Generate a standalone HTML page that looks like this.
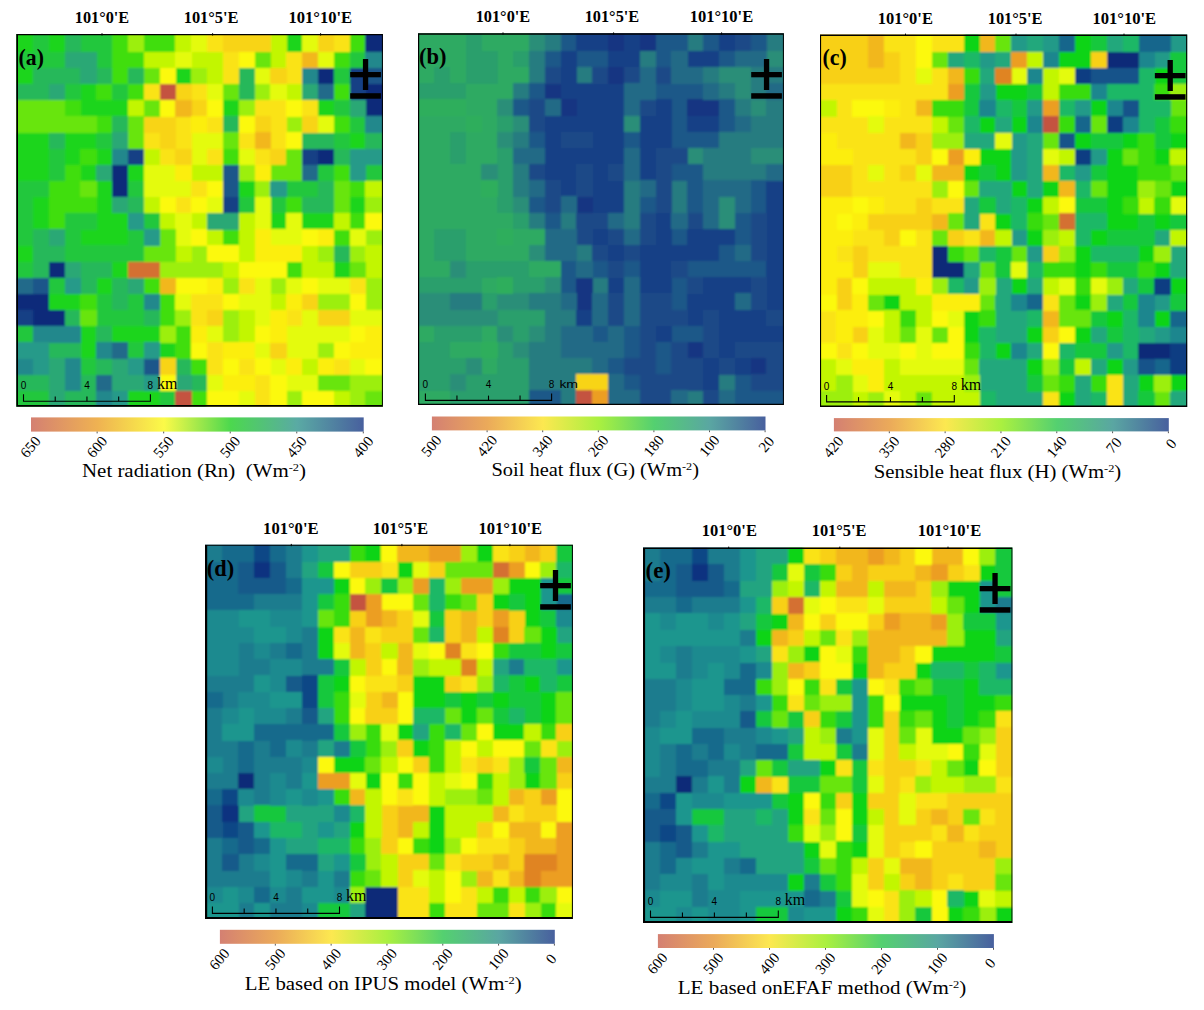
<!DOCTYPE html>
<html><head><meta charset="utf-8"><title>fig</title>
<style>
html,body{margin:0;padding:0;background:#fff;}
body{width:1204px;height:1010px;position:relative;overflow:hidden;font-family:"Liberation Serif",serif;color:#000;}
svg{position:absolute;left:0;top:0;}
.lab{font-family:"Liberation Serif",serif;font-weight:bold;font-size:17px;}
.pl{font-family:"Liberation Serif",serif;font-weight:bold;font-size:23px;}
.tk{font-family:"Liberation Serif",serif;font-size:15px;}
.tt{font-family:"Liberation Serif",serif;font-size:18.5px;}
.sc{font-family:"Liberation Sans",sans-serif;font-size:10px;}
.km{font-family:"Liberation Serif",serif;font-size:16px;}
</style></head><body>
<svg width="1204" height="1010" viewBox="0 0 1204 1010">
<defs>
<filter id="bl" x="-2%" y="-2%" width="104%" height="104%"><feGaussianBlur stdDeviation="0.8"/></filter>
<linearGradient id="cbA" x1="0" x2="1" y1="0" y2="0">
<stop offset="0" stop-color="#d48072"/>
<stop offset="0.2" stop-color="#efb252"/>
<stop offset="0.4" stop-color="#fbfa48"/>
<stop offset="0.6" stop-color="#4cd84e"/>
<stop offset="0.8" stop-color="#5aaaa4"/>
<stop offset="1" stop-color="#48609e"/>
</linearGradient>
<linearGradient id="cbB" x1="0" x2="1" y1="0" y2="0">
<stop offset="0" stop-color="#d48072"/>
<stop offset="0.1667" stop-color="#ebaa5a"/>
<stop offset="0.3333" stop-color="#fce850"/>
<stop offset="0.5" stop-color="#aaf040"/>
<stop offset="0.6667" stop-color="#54d070"/>
<stop offset="0.8333" stop-color="#5aa6a2"/>
<stop offset="1" stop-color="#48609e"/>
</linearGradient>
</defs>

<g id="pa">
<clipPath id="cla"><rect x="16.3" y="34" width="366.6" height="372.8"/></clipPath>
<g clip-path="url(#cla)"><g filter="url(#bl)" shape-rendering="crispEdges">
<path fill="#1bd51b" d="M13.3 31H33.14V52.04H13.3ZM48.68 31H64.82V52.04H48.68ZM286.28 31H302.42V52.04H286.28ZM13.3 67.88H33.14V84.32H13.3ZM175.4 67.88H191.54V84.32H175.4ZM80.36 84.02H96.5V100.46H80.36ZM80.36 100.16H128.18V116.6H80.36ZM222.92 100.16H239.06V116.6H222.92ZM317.96 100.16H334.1V116.6H317.96ZM13.3 132.44H48.98V148.88H13.3ZM64.52 132.44H96.5V148.88H64.52ZM349.64 132.44H365.78V148.88H349.64ZM13.3 148.58H48.98V165.02H13.3ZM64.52 148.58H80.66V165.02H64.52ZM96.2 148.58H112.34V165.02H96.2ZM13.3 164.72H48.98V181.16H13.3ZM80.36 164.72H96.5V181.16H80.36ZM127.88 164.72H144.02V181.16H127.88ZM96.2 180.86H112.34V197.3H96.2ZM238.76 180.86H254.9V197.3H238.76ZM32.84 197H48.98V213.44H32.84ZM96.2 197H112.34V213.44H96.2ZM349.64 197H365.78V213.44H349.64ZM32.84 213.14H48.98V229.58H32.84ZM96.2 213.14H128.18V229.58H96.2ZM270.44 213.14H286.58V229.58H270.44ZM302.12 213.14H334.1V229.58H302.12ZM80.36 229.28H128.18V245.72H80.36ZM13.3 245.42H33.14V261.86H13.3ZM112.04 261.56H128.18V278H112.04ZM333.8 261.56H349.94V278H333.8ZM96.2 277.7H112.34V294.14H96.2ZM48.68 293.84H80.66V310.28H48.68ZM80.36 326.12H96.5V342.56H80.36ZM112.04 326.12H159.86V342.56H112.04ZM80.36 342.26H96.5V358.7H80.36ZM159.56 342.26H175.7V358.7H159.56ZM127.88 390.68H159.86V409.8H127.88Z"/>
<path fill="#22c73c" d="M32.84 31H48.98V52.04H32.84ZM80.36 31H112.34V52.04H80.36ZM13.3 51.74H64.82V68.18H13.3ZM96.2 51.74H112.34V68.18H96.2ZM349.64 51.74H365.78V68.18H349.64ZM333.8 67.88H349.94V84.32H333.8ZM64.52 84.02H80.66V100.46H64.52ZM112.04 84.02H128.18V100.46H112.04ZM333.8 100.16H349.94V116.6H333.8ZM349.64 116.3H365.78V132.74H349.64ZM96.2 132.44H112.34V148.88H96.2ZM333.8 132.44H349.94V148.88H333.8ZM48.68 148.58H64.82V165.02H48.68ZM48.68 164.72H64.82V181.16H48.68ZM317.96 164.72H334.1V181.16H317.96ZM365.48 164.72H385.9V181.16H365.48ZM13.3 180.86H48.98V197.3H13.3ZM127.88 180.86H144.02V197.3H127.88ZM286.28 180.86H318.26V197.3H286.28ZM13.3 197H33.14V213.44H13.3ZM238.76 197H254.9V213.44H238.76ZM270.44 197H286.58V213.44H270.44ZM13.3 213.14H33.14V229.58H13.3ZM64.52 213.14H96.5V229.58H64.52ZM143.72 213.14H159.86V229.58H143.72ZM13.3 229.28H33.14V245.72H13.3ZM64.52 229.28H80.66V245.72H64.52ZM127.88 229.28H144.02V245.72H127.88ZM64.52 245.42H144.02V261.86H64.52ZM13.3 261.56H33.14V278H13.3ZM48.68 277.7H64.82V294.14H48.68ZM96.2 293.84H112.34V310.28H96.2ZM127.88 293.84H144.02V310.28H127.88ZM96.2 309.98H144.02V326.42H96.2ZM13.3 326.12H33.14V342.56H13.3ZM127.88 342.26H144.02V358.7H127.88ZM80.36 358.4H96.5V374.84H80.36ZM13.3 390.68H48.98V409.8H13.3ZM159.56 390.68H175.7V409.8H159.56Z"/>
<path fill="#28b85a" d="M64.52 31H80.66V52.04H64.52ZM32.84 67.88H80.66V84.32H32.84ZM96.2 67.88H112.34V84.32H96.2ZM127.88 67.88H144.02V84.32H127.88ZM238.76 67.88H254.9V84.32H238.76ZM13.3 84.02H48.98V100.46H13.3ZM238.76 84.02H254.9V100.46H238.76ZM112.04 116.3H128.18V132.74H112.04ZM222.92 116.3H239.06V132.74H222.92ZM48.68 132.44H64.82V148.88H48.68ZM302.12 132.44H334.1V148.88H302.12ZM365.48 132.44H385.9V148.88H365.48ZM333.8 148.58H349.94V165.02H333.8ZM317.96 180.86H334.1V197.3H317.96ZM127.88 197H144.02V213.44H127.88ZM302.12 197H334.1V213.44H302.12ZM32.84 229.28H48.98V245.72H32.84ZM32.84 245.42H64.82V261.86H32.84ZM333.8 245.42H349.94V261.86H333.8ZM32.84 261.56H48.98V278H32.84ZM80.36 261.56H112.34V278H80.36ZM80.36 277.7H96.5V294.14H80.36ZM112.04 277.7H128.18V294.14H112.04ZM112.04 293.84H128.18V310.28H112.04ZM64.52 309.98H80.66V326.42H64.52ZM143.72 309.98H159.86V326.42H143.72ZM96.2 326.12H112.34V342.56H96.2ZM48.68 342.26H80.66V358.7H48.68ZM96.2 358.4H112.34V374.84H96.2ZM175.4 358.4H191.54V374.84H175.4ZM13.3 374.54H48.98V390.98H13.3ZM80.36 374.54H96.5V390.98H80.36ZM191.24 374.54H207.38V390.98H191.24ZM64.52 390.68H96.5V409.8H64.52Z"/>
<path fill="#40de0e" d="M112.04 31H128.18V52.04H112.04ZM143.72 31H175.7V52.04H143.72ZM349.64 31H365.78V52.04H349.64ZM112.04 51.74H144.02V68.18H112.04ZM333.8 51.74H349.94V68.18H333.8ZM112.04 67.88H128.18V84.32H112.04ZM96.2 84.02H112.34V100.46H96.2ZM127.88 84.02H144.02V100.46H127.88ZM333.8 84.02H349.94V100.46H333.8ZM64.52 100.16H80.66V116.6H64.52ZM96.2 116.3H112.34V132.74H96.2ZM333.8 116.3H349.94V132.74H333.8ZM80.36 148.58H96.5V165.02H80.36ZM222.92 148.58H239.06V165.02H222.92ZM64.52 164.72H80.66V181.16H64.52ZM333.8 164.72H349.94V181.16H333.8ZM48.68 180.86H80.66V197.3H48.68ZM349.64 180.86H365.78V197.3H349.64ZM48.68 197H96.5V213.44H48.68ZM286.28 197H302.42V213.44H286.28ZM48.68 213.14H64.82V229.58H48.68ZM349.64 213.14H365.78V229.58H349.64ZM222.92 229.28H239.06V245.72H222.92ZM333.8 229.28H349.94V245.72H333.8ZM286.28 261.56H302.42V278H286.28ZM143.72 277.7H159.86V294.14H143.72ZM80.36 293.84H96.5V310.28H80.36ZM159.56 293.84H175.7V310.28H159.56ZM159.56 309.98H175.7V326.42H159.56ZM175.4 326.12H191.54V342.56H175.4ZM175.4 342.26H191.54V358.7H175.4ZM191.24 358.4H207.38V374.84H191.24ZM191.24 390.68H207.38V409.8H191.24Z"/>
<path fill="#9cef0a" d="M127.88 31H144.02V52.04H127.88ZM191.24 67.88H207.38V84.32H191.24ZM254.6 84.02H270.74V100.46H254.6ZM238.76 100.16H254.9V116.6H238.76ZM286.28 116.3H302.42V132.74H286.28ZM238.76 164.72H254.9V181.16H238.76ZM254.6 180.86H270.74V197.3H254.6ZM365.48 197H385.9V213.44H365.48ZM365.48 229.28H385.9V245.72H365.48ZM191.24 245.42H207.38V261.86H191.24ZM317.96 245.42H334.1V261.86H317.96ZM349.64 245.42H365.78V261.86H349.64ZM159.56 261.56H223.22V278H159.56ZM222.92 277.7H239.06V294.14H222.92ZM270.44 277.7H286.58V294.14H270.44ZM365.48 277.7H385.9V294.14H365.48ZM317.96 293.84H349.94V310.28H317.96ZM365.48 293.84H385.9V310.28H365.48ZM175.4 309.98H191.54V326.42H175.4ZM222.92 309.98H239.06V326.42H222.92ZM159.56 326.12H175.7V342.56H159.56ZM222.92 326.12H239.06V342.56H222.92ZM317.96 342.26H334.1V358.7H317.96ZM349.64 374.54H385.9V390.98H349.64ZM286.28 390.68H302.42V409.8H286.28ZM349.64 390.68H365.78V409.8H349.64Z"/>
<path fill="#c2f605" d="M175.4 31H191.54V52.04H175.4ZM270.44 31H286.58V52.04H270.44ZM143.72 51.74H175.7V68.18H143.72ZM191.24 51.74H223.22V68.18H191.24ZM270.44 51.74H286.58V68.18H270.44ZM207.08 67.88H223.22V84.32H207.08ZM286.28 84.02H302.42V100.46H286.28ZM127.88 100.16H144.02V116.6H127.88ZM143.72 148.58H159.86V165.02H143.72ZM191.24 164.72H223.22V181.16H191.24ZM365.48 180.86H385.9V197.3H365.48ZM143.72 197H159.86V213.44H143.72ZM159.56 213.14H175.7V229.58H159.56ZM191.24 213.14H207.38V229.58H191.24ZM238.76 213.14H254.9V229.58H238.76ZM333.8 213.14H349.94V229.58H333.8ZM207.08 229.28H223.22V245.72H207.08ZM238.76 229.28H254.9V245.72H238.76ZM175.4 245.42H191.54V261.86H175.4ZM238.76 245.42H254.9V261.86H238.76ZM302.12 245.42H318.26V261.86H302.12ZM365.48 245.42H385.9V261.86H365.48ZM222.92 261.56H239.06V278H222.92ZM302.12 261.56H334.1V278H302.12ZM365.48 261.56H385.9V278H365.48ZM270.44 293.84H286.58V310.28H270.44ZM238.76 309.98H254.9V326.42H238.76ZM238.76 326.12H254.9V342.56H238.76ZM302.12 358.4H318.26V374.84H302.12ZM333.8 390.68H349.94V409.8H333.8Z"/>
<path fill="#e4fb08" d="M191.24 31H207.38V52.04H191.24ZM302.12 31H318.26V52.04H302.12ZM175.4 51.74H191.54V68.18H175.4ZM317.96 51.74H334.1V68.18H317.96ZM254.6 67.88H270.74V84.32H254.6ZM207.08 84.02H223.22V100.46H207.08ZM270.44 84.02H286.58V100.46H270.44ZM317.96 116.3H334.1V132.74H317.96ZM191.24 132.44H223.22V148.88H191.24ZM191.24 148.58H207.38V165.02H191.24ZM238.76 148.58H254.9V165.02H238.76ZM143.72 164.72H175.7V181.16H143.72ZM143.72 180.86H191.54V197.3H143.72ZM207.08 197H223.22V213.44H207.08ZM254.6 197H270.74V213.44H254.6ZM175.4 213.14H191.54V229.58H175.4ZM254.6 213.14H270.74V229.58H254.6ZM286.28 213.14H302.42V229.58H286.28ZM175.4 229.28H191.54V245.72H175.4ZM270.44 229.28H302.42V245.72H270.44ZM349.64 229.28H365.78V245.72H349.64ZM254.6 277.7H270.74V294.14H254.6ZM286.28 277.7H302.42V294.14H286.28ZM317.96 277.7H349.94V294.14H317.96ZM175.4 293.84H191.54V310.28H175.4ZM238.76 293.84H270.74V310.28H238.76ZM254.6 309.98H270.74V326.42H254.6ZM302.12 309.98H318.26V326.42H302.12ZM349.64 309.98H385.9V326.42H349.64ZM207.08 326.12H223.22V342.56H207.08ZM286.28 326.12H349.94V342.56H286.28ZM254.6 342.26H270.74V358.7H254.6ZM286.28 342.26H318.26V358.7H286.28ZM270.44 358.4H286.58V374.84H270.44ZM349.64 358.4H365.78V374.84H349.64ZM207.08 374.54H223.22V390.98H207.08ZM286.28 374.54H318.26V390.98H286.28ZM238.76 390.68H254.9V409.8H238.76Z"/>
<path fill="#fae313" d="M207.08 31H223.22V52.04H207.08ZM333.8 31H349.94V52.04H333.8ZM222.92 51.74H239.06V68.18H222.92ZM286.28 51.74H302.42V68.18H286.28ZM222.92 67.88H239.06V84.32H222.92ZM286.28 67.88H302.42V84.32H286.28ZM143.72 84.02H159.86V100.46H143.72ZM191.24 84.02H207.38V100.46H191.24ZM254.6 100.16H286.58V116.6H254.6ZM302.12 100.16H318.26V116.6H302.12ZM175.4 116.3H191.54V132.74H175.4ZM207.08 116.3H223.22V132.74H207.08ZM270.44 116.3H286.58V132.74H270.44ZM143.72 132.44H159.86V148.88H143.72ZM175.4 132.44H191.54V148.88H175.4ZM238.76 132.44H254.9V148.88H238.76ZM270.44 132.44H286.58V148.88H270.44ZM159.56 148.58H175.7V165.02H159.56ZM207.08 148.58H223.22V165.02H207.08ZM254.6 148.58H270.74V165.02H254.6ZM191.24 180.86H207.38V197.3H191.24ZM175.4 197H191.54V213.44H175.4ZM238.76 277.7H254.9V294.14H238.76ZM349.64 277.7H365.78V294.14H349.64ZM191.24 293.84H223.22V310.28H191.24ZM191.24 309.98H207.38V326.42H191.24ZM286.28 309.98H302.42V326.42H286.28ZM207.08 342.26H223.22V358.7H207.08ZM207.08 358.4H223.22V374.84H207.08ZM238.76 358.4H254.9V374.84H238.76ZM333.8 358.4H349.94V374.84H333.8ZM254.6 374.54H270.74V390.98H254.6ZM254.6 390.68H270.74V409.8H254.6Z"/>
<path fill="#f8d412" d="M222.92 31H270.74V52.04H222.92ZM317.96 31H334.1V52.04H317.96ZM270.44 67.88H286.58V84.32H270.44ZM175.4 84.02H191.54V100.46H175.4ZM191.24 100.16H207.38V116.6H191.24ZM143.72 116.3H175.7V132.74H143.72ZM254.6 116.3H270.74V132.74H254.6ZM302.12 116.3H318.26V132.74H302.12ZM159.56 132.44H175.7V148.88H159.56ZM175.4 148.58H191.54V165.02H175.4ZM270.44 148.58H286.58V165.02H270.44ZM302.12 293.84H318.26V310.28H302.12ZM207.08 309.98H223.22V326.42H207.08ZM317.96 309.98H349.94V326.42H317.96ZM270.44 342.26H286.58V358.7H270.44ZM159.56 358.4H175.7V374.84H159.56Z"/>
<path fill="#0b2a7a" d="M365.48 31H385.9V52.04H365.48ZM317.96 67.88H334.1V84.32H317.96ZM365.48 84.02H385.9V100.46H365.48ZM365.48 100.16H385.9V116.6H365.48ZM317.96 148.58H334.1V165.02H317.96ZM112.04 164.72H128.18V181.16H112.04ZM112.04 180.86H128.18V197.3H112.04ZM48.68 261.56H64.82V278H48.68ZM13.3 293.84H48.98V310.28H13.3ZM32.84 309.98H64.82V326.42H32.84Z"/>
<path fill="#2aa874" d="M64.52 51.74H96.5V68.18H64.52ZM80.36 67.88H96.5V84.32H80.36ZM48.68 84.02H64.82V100.46H48.68ZM302.12 84.02H318.26V100.46H302.12ZM349.64 100.16H365.78V116.6H349.64ZM112.04 132.44H128.18V148.88H112.04ZM96.2 164.72H112.34V181.16H96.2ZM112.04 197H128.18V213.44H112.04ZM207.08 213.14H239.06V229.58H207.08ZM48.68 229.28H64.82V245.72H48.68ZM64.52 261.56H80.66V278H64.52ZM127.88 277.7H144.02V294.14H127.88ZM48.68 358.4H64.82V374.84H48.68ZM112.04 358.4H128.18V374.84H112.04ZM48.68 374.54H64.82V390.98H48.68ZM112.04 374.54H144.02V390.98H112.04ZM175.4 374.54H191.54V390.98H175.4ZM48.68 390.68H64.82V409.8H48.68Z"/>
<path fill="#fcf907" d="M238.76 51.74H254.9V68.18H238.76ZM159.56 67.88H175.7V84.32H159.56ZM159.56 100.16H175.7V116.6H159.56ZM207.08 100.16H223.22V116.6H207.08ZM286.28 100.16H302.42V116.6H286.28ZM238.76 116.3H254.9V132.74H238.76ZM286.28 132.44H302.42V148.88H286.28ZM207.08 180.86H223.22V197.3H207.08ZM159.56 197H175.7V213.44H159.56ZM191.24 197H207.38V213.44H191.24ZM365.48 213.14H385.9V229.58H365.48ZM191.24 229.28H207.38V245.72H191.24ZM302.12 229.28H318.26V245.72H302.12ZM207.08 245.42H239.06V261.86H207.08ZM238.76 261.56H286.58V278H238.76ZM175.4 277.7H207.38V294.14H175.4ZM302.12 277.7H318.26V294.14H302.12ZM222.92 293.84H239.06V310.28H222.92ZM349.64 293.84H365.78V310.28H349.64ZM254.6 326.12H270.74V342.56H254.6ZM349.64 326.12H365.78V342.56H349.64ZM191.24 342.26H207.38V358.7H191.24ZM333.8 342.26H349.94V358.7H333.8ZM222.92 358.4H239.06V374.84H222.92ZM254.6 358.4H270.74V374.84H254.6ZM365.48 358.4H385.9V374.84H365.48ZM159.56 374.54H175.7V390.98H159.56ZM270.44 374.54H286.58V390.98H270.44ZM207.08 390.68H239.06V409.8H207.08ZM270.44 390.68H286.58V409.8H270.44ZM302.12 390.68H334.1V409.8H302.12Z"/>
<path fill="#68e50c" d="M254.6 51.74H270.74V68.18H254.6ZM143.72 67.88H159.86V84.32H143.72ZM222.92 84.02H239.06V100.46H222.92ZM13.3 100.16H64.82V116.6H13.3ZM143.72 100.16H159.86V116.6H143.72ZM13.3 116.3H96.5V132.74H13.3ZM127.88 116.3H144.02V132.74H127.88ZM127.88 132.44H144.02V148.88H127.88ZM222.92 132.44H239.06V148.88H222.92ZM286.28 148.58H302.42V165.02H286.28ZM270.44 164.72H302.42V181.16H270.44ZM80.36 180.86H96.5V197.3H80.36ZM333.8 180.86H349.94V197.3H333.8ZM333.8 197H349.94V213.44H333.8ZM159.56 229.28H175.7V245.72H159.56ZM143.72 245.42H175.7V261.86H143.72ZM349.64 261.56H365.78V278H349.64ZM80.36 309.98H96.5V326.42H80.36ZM317.96 374.54H349.94V390.98H317.96ZM365.48 390.68H385.9V409.8H365.48Z"/>
<path fill="#f2b71d" d="M302.12 51.74H318.26V68.18H302.12ZM175.4 100.16H191.54V116.6H175.4ZM254.6 132.44H270.74V148.88H254.6ZM159.56 277.7H175.7V294.14H159.56Z"/>
<path fill="#24888c" d="M365.48 51.74H385.9V68.18H365.48ZM302.12 67.88H318.26V84.32H302.12ZM365.48 116.3H385.9V132.74H365.48ZM112.04 148.58H128.18V165.02H112.04ZM143.72 293.84H159.86V310.28H143.72ZM32.84 326.12H80.66V342.56H32.84ZM96.2 342.26H112.34V358.7H96.2ZM13.3 358.4H33.14V374.84H13.3ZM64.52 358.4H80.66V374.84H64.52ZM64.52 374.54H80.66V390.98H64.52ZM96.2 390.68H112.34V409.8H96.2Z"/>
<path fill="#184085" d="M349.64 67.88H365.78V84.32H349.64ZM349.64 84.02H365.78V100.46H349.64ZM127.88 148.58H144.02V165.02H127.88ZM302.12 148.58H318.26V165.02H302.12ZM222.92 197H239.06V213.44H222.92ZM13.3 309.98H33.14V326.42H13.3Z"/>
<path fill="#1f568a" d="M365.48 67.88H385.9V84.32H365.48ZM222.92 164.72H239.06V181.16H222.92ZM222.92 180.86H239.06V197.3H222.92ZM32.84 277.7H48.98V294.14H32.84ZM143.72 358.4H159.86V374.84H143.72Z"/>
<path fill="#c4533f" d="M159.56 84.02H175.7V100.46H159.56ZM175.4 390.68H191.54V409.8H175.4Z"/>
<path fill="#206a8a" d="M317.96 84.02H334.1V100.46H317.96ZM302.12 164.72H318.26V181.16H302.12ZM13.3 277.7H33.14V294.14H13.3ZM112.04 342.26H128.18V358.7H112.04ZM96.2 374.54H112.34V390.98H96.2Z"/>
<path fill="#fcee0c" d="M191.24 116.3H207.38V132.74H191.24ZM175.4 164.72H191.54V181.16H175.4ZM254.6 164.72H270.74V181.16H254.6ZM254.6 229.28H270.74V245.72H254.6ZM317.96 229.28H334.1V245.72H317.96ZM254.6 245.42H302.42V261.86H254.6ZM207.08 277.7H223.22V294.14H207.08ZM286.28 293.84H302.42V310.28H286.28ZM270.44 309.98H286.58V326.42H270.44ZM191.24 326.12H207.38V342.56H191.24ZM270.44 326.12H286.58V342.56H270.44ZM365.48 326.12H385.9V342.56H365.48ZM222.92 342.26H254.9V358.7H222.92ZM349.64 342.26H385.9V358.7H349.64ZM286.28 358.4H302.42V374.84H286.28ZM317.96 358.4H334.1V374.84H317.96ZM222.92 374.54H254.9V390.98H222.92Z"/>
<path fill="#259a89" d="M349.64 148.58H385.9V165.02H349.64ZM349.64 164.72H365.78V181.16H349.64ZM270.44 180.86H286.58V197.3H270.44ZM127.88 213.14H144.02V229.58H127.88ZM143.72 229.28H159.86V245.72H143.72ZM64.52 277.7H80.66V294.14H64.52ZM13.3 342.26H48.98V358.7H13.3ZM143.72 342.26H159.86V358.7H143.72ZM32.84 358.4H48.98V374.84H32.84ZM127.88 358.4H144.02V374.84H127.88ZM143.72 374.54H159.86V390.98H143.72ZM112.04 390.68H128.18V409.8H112.04Z"/>
<path fill="#d46f33" d="M127.88 261.56H159.86V278H127.88Z"/>
</g></g>
<path fill="#000" d="M16.3 34H382.9V406.8H16.3ZM18 35.2H381.9V404.9H18Z" fill-rule="evenodd"/>
<line x1="102" y1="33.2" x2="102" y2="35.5" stroke="#000" stroke-width="1"/>
<text class="lab" x="74.8" y="23" textLength="54.4" lengthAdjust="spacingAndGlyphs">101°0&#39;E</text>
<line x1="212.6" y1="33.2" x2="212.6" y2="35.5" stroke="#000" stroke-width="1"/>
<text class="lab" x="183.7" y="23" textLength="54.8" lengthAdjust="spacingAndGlyphs">101°5&#39;E</text>
<line x1="320.6" y1="33.2" x2="320.6" y2="35.5" stroke="#000" stroke-width="1"/>
<text class="lab" x="288.4" y="23" textLength="63.8" lengthAdjust="spacingAndGlyphs">101°10&#39;E</text>
<text class="pl" x="18.6" y="64.5" textLength="25.4" lengthAdjust="spacingAndGlyphs">(a)</text>
<rect x="362.9" y="59" width="5.3" height="31" fill="#000"/>
<rect x="350.2" y="72" width="30.7" height="5.3" fill="#000"/>
<rect x="350.2" y="93.2" width="30.7" height="5.5" fill="#000"/>
<path d="M23.5 394.3V401.3H150.4V394.3" fill="none" stroke="#000" stroke-width="1.1"/>
<line x1="55.23" y1="396.5" x2="55.23" y2="401.3" stroke="#000" stroke-width="1.1"/>
<line x1="86.95" y1="396.5" x2="86.95" y2="401.3" stroke="#000" stroke-width="1.1"/>
<line x1="118.68" y1="396.5" x2="118.68" y2="401.3" stroke="#000" stroke-width="1.1"/>
<text class="sc" x="23.5" y="388.9" text-anchor="middle">0</text>
<text class="sc" x="86.95" y="388.9" text-anchor="middle">4</text>
<text class="sc" x="150.4" y="388.9" text-anchor="middle">8</text>
<text class="km" x="156.9" y="389.1">km</text>
<rect x="31" y="417.4" width="332.7" height="14.2" fill="url(#cbA)"/>
<text class="tk" transform="translate(41.5 441.6) rotate(-50)" text-anchor="end">650</text>
<line x1="97.14" y1="431.6" x2="97.14" y2="433.4" stroke="#444" stroke-width="0.9"/>
<text class="tk" transform="translate(108.04 441.6) rotate(-50)" text-anchor="end">600</text>
<line x1="163.68" y1="431.6" x2="163.68" y2="433.4" stroke="#444" stroke-width="0.9"/>
<text class="tk" transform="translate(174.58 441.6) rotate(-50)" text-anchor="end">550</text>
<line x1="230.22" y1="431.6" x2="230.22" y2="433.4" stroke="#444" stroke-width="0.9"/>
<text class="tk" transform="translate(241.12 441.6) rotate(-50)" text-anchor="end">500</text>
<line x1="296.76" y1="431.6" x2="296.76" y2="433.4" stroke="#444" stroke-width="0.9"/>
<text class="tk" transform="translate(307.66 441.6) rotate(-50)" text-anchor="end">450</text>
<line x1="363.3" y1="431.6" x2="363.3" y2="433.4" stroke="#444" stroke-width="0.9"/>
<text class="tk" transform="translate(374.2 441.6) rotate(-50)" text-anchor="end">400</text>
<text class="tt" x="82" y="477.1" textLength="224" lengthAdjust="spacingAndGlyphs">Net radiation (Rn)  (Wm<tspan dy="-6" font-size="11">-2</tspan><tspan dy="6">)</tspan></text>
</g>
<g id="pb">
<clipPath id="clb"><rect x="418" y="33.2" width="365.9" height="371.7"/></clipPath>
<g clip-path="url(#clb)"><g filter="url(#bl)" shape-rendering="crispEdges">
<path fill="#2daa62" d="M415 30.2H465.82V51.17H415ZM481.36 30.2H529.18V51.17H481.36ZM415 50.87H465.82V67.34H415ZM497.2 50.87H513.34V67.34H497.2ZM415 67.04H434.14V83.51H415ZM449.68 67.04H465.82V83.51H449.68ZM497.2 67.04H529.18V83.51H497.2ZM465.52 83.21H513.34V99.68H465.52ZM465.52 99.38H497.5V115.85H465.52ZM415 115.55H465.82V132.02H415ZM481.36 115.55H497.5V132.02H481.36ZM415 131.72H449.98V148.19H415ZM465.52 131.72H497.5V148.19H465.52ZM415 147.89H449.98V164.36H415ZM465.52 147.89H497.5V164.36H465.52ZM415 164.06H481.66V180.53H415ZM415 180.23H481.66V196.7H415ZM415 196.4H497.5V212.87H415ZM415 212.57H513.34V229.04H415ZM415 228.74H434.14V245.21H415ZM465.52 228.74H497.5V245.21H465.52ZM513.04 228.74H545.02V245.21H513.04ZM415 244.91H434.14V261.38H415ZM465.52 244.91H529.18V261.38H465.52ZM415 261.08H449.98V277.55H415ZM528.88 261.08H560.86V277.55H528.88ZM481.36 277.25H497.5V293.72H481.36ZM415 325.76H434.14V342.23H415ZM481.36 325.76H497.5V342.23H481.36ZM449.68 341.93H481.66V358.4H449.68ZM481.36 358.1H497.5V374.57H481.36ZM415 390.44H449.98V407.9H415Z"/>
<path fill="#2c9f6c" d="M465.52 30.2H481.66V51.17H465.52ZM465.52 50.87H497.5V67.34H465.52ZM513.04 50.87H529.18V67.34H513.04ZM433.84 67.04H449.98V83.51H433.84ZM465.52 67.04H497.5V83.51H465.52ZM415 83.21H465.82V99.68H415ZM497.2 115.55H513.34V132.02H497.2ZM449.68 131.72H465.82V148.19H449.68ZM449.68 147.89H465.82V164.36H449.68ZM497.2 147.89H513.34V164.36H497.2ZM497.2 164.06H513.34V180.53H497.2ZM497.2 180.23H513.34V196.7H497.2ZM497.2 196.4H513.34V212.87H497.2ZM513.04 212.57H529.18V229.04H513.04ZM433.84 228.74H465.82V245.21H433.84ZM433.84 244.91H465.82V261.38H433.84ZM465.52 261.08H529.18V277.55H465.52ZM415 277.25H481.66V293.72H415ZM513.04 277.25H545.02V293.72H513.04ZM481.36 293.42H497.5V309.89H481.36ZM497.2 309.59H545.02V326.06H497.2ZM433.84 325.76H481.66V342.23H433.84ZM513.04 325.76H529.18V342.23H513.04ZM415 341.93H449.98V358.4H415ZM497.2 341.93H513.34V358.4H497.2ZM415 358.1H465.82V374.57H415ZM497.2 358.1H529.18V374.57H497.2ZM415 374.27H449.98V390.74H415ZM465.52 374.27H529.18V390.74H465.52ZM449.68 390.44H529.18V407.9H449.68Z"/>
<path fill="#2a8e78" d="M528.88 30.2H545.02V51.17H528.88ZM766.48 50.87H786.9V67.34H766.48ZM718.96 67.04H750.94V83.51H718.96ZM734.8 83.21H750.94V99.68H734.8ZM497.2 99.38H513.34V115.85H497.2ZM750.64 99.38H766.78V115.85H750.64ZM513.04 115.55H529.18V132.02H513.04ZM623.92 115.55H640.06V132.02H623.92ZM497.2 131.72H513.34V148.19H497.2ZM687.28 147.89H703.42V164.36H687.28ZM750.64 147.89H786.9V164.36H750.64ZM481.36 164.06H497.5V180.53H481.36ZM513.04 196.4H529.18V212.87H513.04ZM718.96 196.4H735.1V212.87H718.96ZM718.96 212.57H735.1V229.04H718.96ZM528.88 244.91H545.02V261.38H528.88ZM449.68 261.08H465.82V277.55H449.68ZM544.72 277.25H560.86V293.72H544.72ZM415 293.42H449.98V309.89H415ZM497.2 293.42H529.18V309.89H497.2ZM415 309.59H497.5V326.06H415ZM497.2 325.76H513.34V342.23H497.2ZM528.88 325.76H545.02V342.23H528.88ZM513.04 341.93H529.18V358.4H513.04ZM465.52 358.1H481.66V374.57H465.52ZM449.68 374.27H465.82V390.74H449.68Z"/>
<path fill="#277c80" d="M544.72 30.2H560.86V51.17H544.72ZM687.28 30.2H703.42V51.17H687.28ZM766.48 30.2H786.9V51.17H766.48ZM528.88 50.87H545.02V67.34H528.88ZM639.76 50.87H655.9V67.34H639.76ZM528.88 67.04H545.02V83.51H528.88ZM576.4 67.04H592.54V83.51H576.4ZM703.12 67.04H719.26V83.51H703.12ZM750.64 67.04H786.9V83.51H750.64ZM513.04 83.21H529.18V99.68H513.04ZM718.96 83.21H735.1V99.68H718.96ZM750.64 83.21H766.78V99.68H750.64ZM734.8 99.38H750.94V115.85H734.8ZM766.48 99.38H786.9V115.85H766.48ZM750.64 115.55H786.9V132.02H750.64ZM513.04 131.72H529.18V148.19H513.04ZM718.96 131.72H786.9V148.19H718.96ZM703.12 147.89H750.94V164.36H703.12ZM513.04 164.06H529.18V180.53H513.04ZM703.12 164.06H766.78V180.53H703.12ZM513.04 180.23H529.18V196.7H513.04ZM623.92 180.23H640.06V196.7H623.92ZM671.44 180.23H687.58V196.7H671.44ZM623.92 196.4H640.06V212.87H623.92ZM671.44 196.4H687.58V212.87H671.44ZM528.88 212.57H545.02V229.04H528.88ZM560.56 212.57H576.7V229.04H560.56ZM623.92 212.57H640.06V229.04H623.92ZM576.4 244.91H592.54V261.38H576.4ZM592.24 277.25H608.38V293.72H592.24ZM449.68 293.42H481.66V309.89H449.68ZM528.88 293.42H560.86V309.89H528.88ZM544.72 309.59H576.7V326.06H544.72ZM544.72 325.76H560.86V342.23H544.72ZM528.88 341.93H560.86V358.4H528.88ZM528.88 358.1H592.54V374.57H528.88ZM528.88 374.27H576.7V390.74H528.88ZM718.96 374.27H735.1V390.74H718.96ZM560.56 390.44H576.7V407.9H560.56ZM687.28 390.44H703.42V407.9H687.28Z"/>
<path fill="#1f5888" d="M560.56 30.2H576.7V51.17H560.56ZM655.6 30.2H687.58V51.17H655.6ZM703.12 30.2H719.26V51.17H703.12ZM750.64 30.2H766.78V51.17H750.64ZM544.72 50.87H560.86V67.34H544.72ZM576.4 50.87H608.38V67.34H576.4ZM655.6 50.87H671.74V67.34H655.6ZM718.96 50.87H735.1V67.34H718.96ZM528.88 83.21H545.02V99.68H528.88ZM655.6 83.21H703.42V99.68H655.6ZM513.04 99.38H529.18V115.85H513.04ZM671.44 99.38H687.58V115.85H671.44ZM718.96 99.38H735.1V115.85H718.96ZM671.44 115.55H687.58V132.02H671.44ZM718.96 115.55H735.1V132.02H718.96ZM528.88 131.72H545.02V148.19H528.88ZM623.92 131.72H640.06V148.19H623.92ZM671.44 131.72H719.26V148.19H671.44ZM671.44 164.06H703.42V180.53H671.44ZM687.28 180.23H703.42V196.7H687.28ZM750.64 180.23H766.78V196.7H750.64ZM528.88 196.4H545.02V212.87H528.88ZM639.76 196.4H655.9V212.87H639.76ZM687.28 196.4H703.42V212.87H687.28ZM750.64 196.4H766.78V212.87H750.64ZM544.72 212.57H560.86V229.04H544.72ZM734.8 212.57H750.94V229.04H734.8ZM671.44 228.74H687.58V245.21H671.44ZM734.8 228.74H750.94V245.21H734.8ZM718.96 244.91H735.1V261.38H718.96ZM560.56 261.08H576.7V277.55H560.56ZM592.24 261.08H608.38V277.55H592.24ZM623.92 261.08H640.06V277.55H623.92ZM687.28 261.08H766.78V277.55H687.28ZM560.56 277.25H576.7V293.72H560.56ZM671.44 277.25H687.58V293.72H671.44ZM671.44 293.42H687.58V309.89H671.44ZM592.24 325.76H608.38V342.23H592.24ZM623.92 325.76H640.06V342.23H623.92ZM671.44 325.76H703.42V342.23H671.44ZM623.92 341.93H640.06V358.4H623.92ZM655.6 341.93H671.74V358.4H655.6ZM608.08 358.1H624.22V374.57H608.08ZM655.6 358.1H671.74V374.57H655.6ZM623.92 374.27H640.06V390.74H623.92ZM734.8 374.27H750.94V390.74H734.8ZM528.88 390.44H560.86V407.9H528.88ZM734.8 390.44H786.9V407.9H734.8Z"/>
<path fill="#174086" d="M576.4 30.2H608.38V51.17H576.4ZM623.92 30.2H640.06V51.17H623.92ZM718.96 30.2H735.1V51.17H718.96ZM560.56 50.87H576.7V67.34H560.56ZM608.08 50.87H640.06V67.34H608.08ZM687.28 50.87H719.26V67.34H687.28ZM560.56 67.04H576.7V83.51H560.56ZM560.56 83.21H624.22V99.68H560.56ZM576.4 99.38H624.22V115.85H576.4ZM655.6 99.38H671.74V115.85H655.6ZM544.72 115.55H624.22V132.02H544.72ZM639.76 115.55H671.74V132.02H639.76ZM687.28 115.55H719.26V132.02H687.28ZM544.72 131.72H560.86V148.19H544.72ZM592.24 131.72H624.22V148.19H592.24ZM639.76 131.72H671.74V148.19H639.76ZM544.72 147.89H624.22V164.36H544.72ZM639.76 147.89H655.9V164.36H639.76ZM544.72 164.06H576.7V180.53H544.72ZM592.24 164.06H608.38V180.53H592.24ZM639.76 164.06H655.9V180.53H639.76ZM560.56 180.23H576.7V196.7H560.56ZM592.24 180.23H624.22V196.7H592.24ZM766.48 180.23H786.9V196.7H766.48ZM592.24 196.4H624.22V212.87H592.24ZM766.48 196.4H786.9V212.87H766.48ZM655.6 212.57H671.74V229.04H655.6ZM766.48 212.57H786.9V229.04H766.48ZM592.24 228.74H608.38V245.21H592.24ZM655.6 228.74H671.74V245.21H655.6ZM687.28 228.74H735.1V245.21H687.28ZM766.48 228.74H786.9V245.21H766.48ZM608.08 244.91H624.22V261.38H608.08ZM639.76 244.91H719.26V261.38H639.76ZM766.48 244.91H786.9V261.38H766.48ZM639.76 261.08H671.74V277.55H639.76ZM766.48 261.08H786.9V277.55H766.48ZM608.08 277.25H624.22V293.72H608.08ZM639.76 277.25H671.74V293.72H639.76ZM703.12 277.25H750.94V293.72H703.12ZM766.48 277.25H786.9V293.72H766.48ZM687.28 293.42H735.1V309.89H687.28ZM766.48 293.42H786.9V309.89H766.48ZM576.4 309.59H592.54V326.06H576.4ZM687.28 309.59H703.42V326.06H687.28ZM718.96 309.59H766.78V326.06H718.96ZM655.6 325.76H671.74V342.23H655.6ZM718.96 325.76H786.9V342.23H718.96ZM718.96 341.93H735.1V358.4H718.96ZM703.12 358.1H719.26V374.57H703.12ZM734.8 358.1H750.94V374.57H734.8ZM703.12 374.27H719.26V390.74H703.12Z"/>
<path fill="#123482" d="M608.08 30.2H624.22V51.17H608.08ZM639.76 30.2H655.9V51.17H639.76ZM608.08 67.04H624.22V83.51H608.08ZM544.72 83.21H560.86V99.68H544.72ZM560.56 99.38H576.7V115.85H560.56ZM687.28 99.38H719.26V115.85H687.28ZM576.4 196.4H592.54V212.87H576.4ZM576.4 277.25H592.54V293.72H576.4ZM576.4 293.42H592.54V309.89H576.4ZM687.28 341.93H703.42V358.4H687.28ZM750.64 358.1H766.78V374.57H750.64Z"/>
<path fill="#1b4a87" d="M734.8 30.2H750.94V51.17H734.8ZM544.72 67.04H560.86V83.51H544.72ZM592.24 67.04H608.38V83.51H592.24ZM623.92 67.04H640.06V83.51H623.92ZM655.6 67.04H671.74V83.51H655.6ZM528.88 99.38H545.02V115.85H528.88ZM639.76 99.38H655.9V115.85H639.76ZM528.88 115.55H545.02V132.02H528.88ZM560.56 131.72H592.54V148.19H560.56ZM655.6 147.89H687.58V164.36H655.6ZM528.88 164.06H545.02V180.53H528.88ZM576.4 164.06H592.54V180.53H576.4ZM608.08 164.06H624.22V180.53H608.08ZM655.6 164.06H671.74V180.53H655.6ZM544.72 180.23H560.86V196.7H544.72ZM576.4 180.23H592.54V196.7H576.4ZM655.6 180.23H671.74V196.7H655.6ZM544.72 196.4H560.86V212.87H544.72ZM655.6 196.4H671.74V212.87H655.6ZM576.4 212.57H608.38V229.04H576.4ZM639.76 212.57H655.9V229.04H639.76ZM687.28 212.57H703.42V229.04H687.28ZM750.64 212.57H766.78V229.04H750.64ZM576.4 228.74H592.54V245.21H576.4ZM608.08 228.74H624.22V245.21H608.08ZM639.76 228.74H655.9V245.21H639.76ZM750.64 228.74H766.78V245.21H750.64ZM592.24 244.91H608.38V261.38H592.24ZM623.92 244.91H640.06V261.38H623.92ZM750.64 244.91H766.78V261.38H750.64ZM608.08 261.08H624.22V277.55H608.08ZM671.44 261.08H687.58V277.55H671.44ZM687.28 277.25H703.42V293.72H687.28ZM750.64 277.25H766.78V293.72H750.64ZM608.08 293.42H624.22V309.89H608.08ZM639.76 293.42H671.74V309.89H639.76ZM750.64 293.42H766.78V309.89H750.64ZM608.08 309.59H624.22V326.06H608.08ZM639.76 309.59H687.58V326.06H639.76ZM703.12 309.59H719.26V326.06H703.12ZM766.48 309.59H786.9V326.06H766.48ZM639.76 325.76H655.9V342.23H639.76ZM703.12 325.76H719.26V342.23H703.12ZM639.76 341.93H655.9V358.4H639.76ZM671.44 341.93H687.58V358.4H671.44ZM703.12 341.93H719.26V358.4H703.12ZM734.8 341.93H786.9V358.4H734.8ZM623.92 358.1H655.9V374.57H623.92ZM671.44 358.1H703.42V374.57H671.44ZM718.96 358.1H735.1V374.57H718.96ZM766.48 358.1H786.9V374.57H766.48ZM639.76 374.27H703.42V390.74H639.76ZM750.64 374.27H786.9V390.74H750.64ZM639.76 390.44H671.74V407.9H639.76ZM703.12 390.44H719.26V407.9H703.12Z"/>
<path fill="#246a86" d="M671.44 50.87H687.58V67.34H671.44ZM734.8 50.87H766.78V67.34H734.8ZM639.76 67.04H655.9V83.51H639.76ZM671.44 67.04H703.42V83.51H671.44ZM623.92 83.21H655.9V99.68H623.92ZM703.12 83.21H719.26V99.68H703.12ZM766.48 83.21H786.9V99.68H766.48ZM544.72 99.38H560.86V115.85H544.72ZM623.92 99.38H640.06V115.85H623.92ZM734.8 115.55H750.94V132.02H734.8ZM513.04 147.89H545.02V164.36H513.04ZM623.92 147.89H640.06V164.36H623.92ZM623.92 164.06H640.06V180.53H623.92ZM766.48 164.06H786.9V180.53H766.48ZM528.88 180.23H545.02V196.7H528.88ZM639.76 180.23H655.9V196.7H639.76ZM703.12 180.23H750.94V196.7H703.12ZM560.56 196.4H576.7V212.87H560.56ZM703.12 196.4H719.26V212.87H703.12ZM734.8 196.4H750.94V212.87H734.8ZM608.08 212.57H624.22V229.04H608.08ZM671.44 212.57H687.58V229.04H671.44ZM703.12 212.57H719.26V229.04H703.12ZM544.72 228.74H576.7V245.21H544.72ZM623.92 228.74H640.06V245.21H623.92ZM544.72 244.91H576.7V261.38H544.72ZM734.8 244.91H750.94V261.38H734.8ZM576.4 261.08H592.54V277.55H576.4ZM623.92 277.25H640.06V293.72H623.92ZM560.56 293.42H576.7V309.89H560.56ZM592.24 293.42H608.38V309.89H592.24ZM623.92 293.42H640.06V309.89H623.92ZM734.8 293.42H750.94V309.89H734.8ZM592.24 309.59H608.38V326.06H592.24ZM623.92 309.59H640.06V326.06H623.92ZM560.56 325.76H592.54V342.23H560.56ZM608.08 325.76H624.22V342.23H608.08ZM560.56 341.93H624.22V358.4H560.56ZM592.24 358.1H608.38V374.57H592.24ZM608.08 374.27H624.22V390.74H608.08ZM608.08 390.44H640.06V407.9H608.08ZM671.44 390.44H687.58V407.9H671.44ZM718.96 390.44H735.1V407.9H718.96Z"/>
<path fill="#2eae5c" d="M415 99.38H465.82V115.85H415ZM465.52 115.55H481.66V132.02H465.52ZM481.36 180.23H497.5V196.7H481.36ZM497.2 228.74H513.34V245.21H497.2ZM497.2 277.25H513.34V293.72H497.2ZM481.36 341.93H497.5V358.4H481.36Z"/>
<path fill="#f8d412" d="M576.4 374.27H608.38V390.74H576.4Z"/>
<path fill="#c4533f" d="M576.4 390.44H592.54V407.9H576.4Z"/>
<path fill="#ec9e20" d="M592.24 390.44H608.38V407.9H592.24Z"/>
</g></g>
<path fill="#000" d="M418 33.2H783.9V404.9H418ZM419.2 34.8H782.9V403.7H419.2Z" fill-rule="evenodd"/>
<line x1="503" y1="32.4" x2="503" y2="34.7" stroke="#000" stroke-width="1"/>
<text class="lab" x="475.7" y="22.2" textLength="54.5" lengthAdjust="spacingAndGlyphs">101°0&#39;E</text>
<line x1="613.6" y1="32.4" x2="613.6" y2="34.7" stroke="#000" stroke-width="1"/>
<text class="lab" x="584.7" y="22.2" textLength="54.5" lengthAdjust="spacingAndGlyphs">101°5&#39;E</text>
<line x1="721.6" y1="32.4" x2="721.6" y2="34.7" stroke="#000" stroke-width="1"/>
<text class="lab" x="689.7" y="22.2" textLength="63.5" lengthAdjust="spacingAndGlyphs">101°10&#39;E</text>
<text class="pl" x="418.9" y="63.6" textLength="27.5" lengthAdjust="spacingAndGlyphs">(b)</text>
<rect x="763.9" y="59" width="5.3" height="31" fill="#000"/>
<rect x="751.2" y="72" width="30.7" height="5.3" fill="#000"/>
<rect x="751.2" y="93.2" width="30.7" height="5.5" fill="#000"/>
<path d="M425.4 393.4V400.4H551.6V393.4" fill="none" stroke="#000" stroke-width="1.1"/>
<line x1="456.95" y1="395.6" x2="456.95" y2="400.4" stroke="#000" stroke-width="1.1"/>
<line x1="488.5" y1="395.6" x2="488.5" y2="400.4" stroke="#000" stroke-width="1.1"/>
<line x1="520.05" y1="395.6" x2="520.05" y2="400.4" stroke="#000" stroke-width="1.1"/>
<text class="sc" x="425.4" y="388" text-anchor="middle">0</text>
<text class="sc" x="488.5" y="388" text-anchor="middle">4</text>
<text class="sc" x="551.6" y="388" text-anchor="middle">8</text>
<text class="sc" style="font-size:11.5px" x="559.4" y="387.8" textLength="18.6" lengthAdjust="spacingAndGlyphs">km</text>
<rect x="431.9" y="416.5" width="333.6" height="13.9" fill="url(#cbB)"/>
<text class="tk" transform="translate(442.4 440.4) rotate(-50)" text-anchor="end">500</text>
<line x1="487.1" y1="430.4" x2="487.1" y2="432.2" stroke="#444" stroke-width="0.9"/>
<text class="tk" transform="translate(498 440.4) rotate(-50)" text-anchor="end">420</text>
<line x1="542.7" y1="430.4" x2="542.7" y2="432.2" stroke="#444" stroke-width="0.9"/>
<text class="tk" transform="translate(553.6 440.4) rotate(-50)" text-anchor="end">340</text>
<line x1="598.3" y1="430.4" x2="598.3" y2="432.2" stroke="#444" stroke-width="0.9"/>
<text class="tk" transform="translate(609.2 440.4) rotate(-50)" text-anchor="end">260</text>
<line x1="653.9" y1="430.4" x2="653.9" y2="432.2" stroke="#444" stroke-width="0.9"/>
<text class="tk" transform="translate(664.8 440.4) rotate(-50)" text-anchor="end">180</text>
<line x1="709.5" y1="430.4" x2="709.5" y2="432.2" stroke="#444" stroke-width="0.9"/>
<text class="tk" transform="translate(720.4 440.4) rotate(-50)" text-anchor="end">100</text>
<line x1="765.1" y1="430.4" x2="765.1" y2="432.2" stroke="#444" stroke-width="0.9"/>
<text class="tk" transform="translate(775 441.65) rotate(-50)" text-anchor="end">20</text>
<text class="tt" x="491.4" y="476.3" textLength="207.6" lengthAdjust="spacingAndGlyphs">Soil heat flux (G) (Wm<tspan dy="-6" font-size="11">-2</tspan><tspan dy="6">)</tspan></text>
</g>
<g id="pc">
<clipPath id="clc"><rect x="820" y="34.4" width="367.2" height="372.5"/></clipPath>
<g clip-path="url(#clc)"><g filter="url(#bl)" shape-rendering="crispEdges">
<path fill="#f8d014" d="M817 31.4H868.4V51.97H817ZM817 51.67H868.4V68.14H817ZM884 51.67H900.2V68.14H884ZM1090.7 51.67H1106.9V68.14H1090.7ZM817 67.84H900.2V84.31H817ZM915.8 132.52H932V148.99H915.8ZM915.8 148.69H932V165.16H915.8ZM817 164.86H852.5V181.33H817ZM899.9 164.86H916.1V181.33H899.9ZM817 181.03H852.5V197.5H817ZM915.8 197.2H932V213.67H915.8ZM868.1 213.37H932V229.84H868.1ZM884 229.54H900.2V246.01H884ZM947.6 229.54H963.8V246.01H947.6ZM852.2 245.71H868.4V262.18H852.2ZM1043 245.71H1059.2V262.18H1043ZM852.2 261.88H868.4V278.35H852.2ZM836.3 278.05H852.5V294.52H836.3ZM836.3 294.22H852.5V310.69H836.3ZM852.2 326.56H868.4V343.03H852.2ZM1043 326.56H1059.2V343.03H1043Z"/>
<path fill="#f2b71d" d="M868.1 31.4H884.3V51.97H868.1ZM979.4 31.4H995.6V51.97H979.4ZM868.1 51.67H884.3V68.14H868.1ZM947.6 67.84H963.8V84.31H947.6ZM915.8 100.18H932V116.65H915.8ZM899.9 132.52H916.1V148.99H899.9ZM931.7 164.86H963.8V181.33H931.7ZM1043 164.86H1059.2V181.33H1043ZM1058.9 181.03H1075.1V197.5H1058.9ZM931.7 213.37H947.9V229.84H931.7ZM979.4 229.54H995.6V246.01H979.4ZM1043 310.39H1059.2V326.86H1043Z"/>
<path fill="#fae313" d="M884 31.4H916.1V51.97H884ZM931.7 31.4H963.8V51.97H931.7ZM899.9 51.67H916.1V68.14H899.9ZM899.9 67.84H916.1V84.31H899.9ZM931.7 67.84H947.9V84.31H931.7ZM817 84.01H947.9V100.48H817ZM836.3 100.18H852.5V116.65H836.3ZM899.9 100.18H916.1V116.65H899.9ZM817 116.35H868.4V132.82H817ZM884 116.35H932V132.82H884ZM836.3 132.52H900.2V148.99H836.3ZM852.2 148.69H916.1V165.16H852.2ZM852.2 164.86H868.4V181.33H852.2ZM884 164.86H900.2V181.33H884ZM852.2 181.03H932V197.5H852.2ZM884 197.2H916.1V213.67H884ZM931.7 197.2H963.8V213.67H931.7ZM979.4 213.37H995.6V229.84H979.4ZM852.2 229.54H884.3V246.01H852.2ZM915.8 229.54H932V246.01H915.8ZM963.5 229.54H979.7V246.01H963.5ZM836.3 245.71H852.5V262.18H836.3ZM868.1 245.71H932V262.18H868.1ZM899.9 261.88H932V278.35H899.9ZM1043 294.22H1059.2V310.69H1043ZM817 310.39H836.6V326.86H817ZM817 326.56H836.6V343.03H817ZM836.3 342.73H852.5V359.2H836.3ZM1106.6 375.07H1122.8V391.54H1106.6ZM1043 391.24H1059.2V409.9H1043ZM1106.6 391.24H1122.8V409.9H1106.6Z"/>
<path fill="#fcf907" d="M915.8 31.4H932V51.97H915.8ZM915.8 51.67H932V68.14H915.8ZM852.2 100.18H884.3V116.65H852.2ZM931.7 148.69H947.9V165.16H931.7ZM947.6 181.03H963.8V197.5H947.6ZM852.2 197.2H868.4V213.67H852.2ZM1058.9 197.2H1075.1V213.67H1058.9ZM836.3 213.37H852.5V229.84H836.3ZM899.9 229.54H916.1V246.01H899.9ZM852.2 278.05H868.4V294.52H852.2ZM817 294.22H836.6V310.69H817ZM868.1 310.39H884.3V326.86H868.1ZM931.7 310.39H947.9V326.86H931.7ZM947.6 326.56H963.8V343.03H947.6ZM1058.9 326.56H1075.1V343.03H1058.9ZM817 342.73H836.6V359.2H817ZM852.2 342.73H868.4V359.2H852.2ZM899.9 342.73H916.1V359.2H899.9ZM931.7 342.73H963.8V359.2H931.7ZM1043 342.73H1059.2V359.2H1043Z"/>
<path fill="#0cd416" d="M963.5 31.4H979.7V51.97H963.5ZM1074.8 31.4H1091V51.97H1074.8ZM1058.9 51.67H1091V68.14H1058.9ZM1154.3 67.84H1170.5V84.31H1154.3ZM995.3 84.01H1027.4V100.48H995.3ZM1090.7 100.18H1106.9V116.65H1090.7ZM979.4 116.35H995.6V132.82H979.4ZM1011.2 116.35H1027.4V132.82H1011.2ZM1074.8 132.52H1091V148.99H1074.8ZM1122.5 132.52H1138.7V148.99H1122.5ZM1170.2 132.52H1190.2V148.99H1170.2ZM979.4 148.69H1011.5V165.16H979.4ZM1106.6 148.69H1122.8V165.16H1106.6ZM1154.3 148.69H1170.5V165.16H1154.3ZM963.5 164.86H979.7V181.33H963.5ZM995.3 164.86H1011.5V181.33H995.3ZM1106.6 164.86H1138.7V181.33H1106.6ZM1011.2 181.03H1027.4V197.5H1011.2ZM1043 181.03H1059.2V197.5H1043ZM1106.6 181.03H1138.7V197.5H1106.6ZM1170.2 181.03H1190.2V197.5H1170.2ZM1027.1 197.2H1043.3V213.67H1027.1ZM1106.6 197.2H1122.8V213.67H1106.6ZM995.3 213.37H1011.5V229.84H995.3ZM1106.6 213.37H1138.7V229.84H1106.6ZM1154.3 213.37H1170.5V229.84H1154.3ZM1027.1 229.54H1043.3V246.01H1027.1ZM1090.7 229.54H1106.9V246.01H1090.7ZM1074.8 245.71H1091V262.18H1074.8ZM1138.4 245.71H1154.6V262.18H1138.4ZM1074.8 261.88H1091V278.35H1074.8ZM1154.3 261.88H1170.5V278.35H1154.3ZM1011.2 278.05H1027.4V294.52H1011.2ZM1170.2 278.05H1190.2V294.52H1170.2ZM884 294.22H900.2V310.69H884ZM1074.8 294.22H1091V310.69H1074.8ZM963.5 310.39H979.7V326.86H963.5ZM1106.6 310.39H1122.8V326.86H1106.6ZM1154.3 310.39H1170.5V326.86H1154.3ZM963.5 326.56H979.7V343.03H963.5ZM1027.1 326.56H1043.3V343.03H1027.1ZM1074.8 326.56H1091V343.03H1074.8ZM995.3 342.73H1011.5V359.2H995.3ZM1027.1 358.9H1043.3V375.37H1027.1ZM1106.6 358.9H1122.8V375.37H1106.6ZM1138.4 375.07H1154.6V391.54H1138.4ZM1170.2 375.07H1190.2V391.54H1170.2ZM1058.9 391.24H1075.1V409.9H1058.9Z"/>
<path fill="#68e50c" d="M995.3 31.4H1011.5V51.97H995.3ZM931.7 51.67H947.9V68.14H931.7ZM1170.2 100.18H1190.2V116.65H1170.2ZM947.6 116.35H963.8V132.82H947.6ZM1090.7 116.35H1106.9V132.82H1090.7ZM1043 132.52H1059.2V148.99H1043ZM1122.5 148.69H1138.7V165.16H1122.5ZM1170.2 164.86H1190.2V181.33H1170.2ZM963.5 181.03H979.7V197.5H963.5ZM1090.7 181.03H1106.9V197.5H1090.7ZM1154.3 181.03H1170.5V197.5H1154.3ZM947.6 213.37H963.8V229.84H947.6ZM1043 213.37H1059.2V229.84H1043ZM931.7 229.54H947.9V246.01H931.7ZM963.5 245.71H979.7V262.18H963.5ZM1011.2 245.71H1027.4V262.18H1011.2ZM979.4 261.88H995.6V278.35H979.4ZM868.1 294.22H884.3V310.69H868.1ZM979.4 294.22H995.6V310.69H979.4ZM1058.9 294.22H1075.1V310.69H1058.9ZM1058.9 310.39H1091V326.86H1058.9ZM899.9 326.56H916.1V343.03H899.9ZM931.7 326.56H947.9V343.03H931.7ZM963.5 358.9H979.7V375.37H963.5ZM1043 375.07H1059.2V391.54H1043ZM915.8 391.24H932V409.9H915.8ZM1154.3 391.24H1170.5V409.9H1154.3Z"/>
<path fill="#249a88" d="M1011.2 31.4H1027.4V51.97H1011.2ZM1043 31.4H1059.2V51.97H1043ZM1170.2 31.4H1190.2V51.97H1170.2ZM979.4 51.67H995.6V68.14H979.4ZM1154.3 51.67H1170.5V68.14H1154.3ZM979.4 84.01H995.6V100.48H979.4ZM1027.1 100.18H1043.3V116.65H1027.1ZM1074.8 100.18H1091V116.65H1074.8ZM1011.2 132.52H1027.4V148.99H1011.2ZM1011.2 148.69H1027.4V165.16H1011.2ZM1090.7 148.69H1106.9V165.16H1090.7ZM1011.2 164.86H1027.4V181.33H1011.2ZM1074.8 164.86H1091V181.33H1074.8ZM1011.2 229.54H1027.4V246.01H1011.2ZM1027.1 245.71H1043.3V262.18H1027.1ZM963.5 278.05H979.7V294.52H963.5ZM1154.3 294.22H1170.5V310.69H1154.3ZM1154.3 326.56H1170.5V343.03H1154.3ZM1106.6 342.73H1122.8V359.2H1106.6ZM1122.5 358.9H1138.7V375.37H1122.5Z"/>
<path fill="#20a87c" d="M1027.1 31.4H1043.3V51.97H1027.1ZM1106.6 31.4H1122.8V51.97H1106.6ZM947.6 51.67H963.8V68.14H947.6ZM995.3 51.67H1011.5V68.14H995.3ZM979.4 67.84H995.6V84.31H979.4ZM995.3 116.35H1011.5V132.82H995.3ZM963.5 132.52H995.6V148.99H963.5ZM1027.1 132.52H1043.3V148.99H1027.1ZM1027.1 148.69H1043.3V165.16H1027.1ZM1027.1 164.86H1043.3V181.33H1027.1ZM979.4 181.03H1011.5V197.5H979.4ZM1027.1 181.03H1043.3V197.5H1027.1ZM963.5 197.2H979.7V213.67H963.5ZM995.3 197.2H1011.5V213.67H995.3ZM963.5 213.37H979.7V229.84H963.5ZM1154.3 229.54H1170.5V246.01H1154.3ZM1170.2 245.71H1190.2V262.18H1170.2ZM963.5 261.88H979.7V278.35H963.5ZM1170.2 261.88H1190.2V278.35H1170.2ZM995.3 278.05H1011.5V294.52H995.3ZM1027.1 278.05H1043.3V294.52H1027.1ZM1122.5 278.05H1138.7V294.52H1122.5ZM995.3 294.22H1011.5V310.69H995.3ZM1106.6 294.22H1122.8V310.69H1106.6ZM995.3 310.39H1027.4V326.86H995.3ZM995.3 326.56H1027.4V343.03H995.3ZM1090.7 326.56H1106.9V343.03H1090.7ZM1138.4 326.56H1154.6V343.03H1138.4ZM1027.1 342.73H1043.3V359.2H1027.1ZM979.4 358.9H1027.4V375.37H979.4ZM1090.7 358.9H1106.9V375.37H1090.7ZM979.4 375.07H1027.4V391.54H979.4ZM1074.8 375.07H1091V391.54H1074.8ZM1122.5 375.07H1138.7V391.54H1122.5ZM995.3 391.24H1043.3V409.9H995.3ZM1074.8 391.24H1091V409.9H1074.8ZM1122.5 391.24H1138.7V409.9H1122.5ZM1170.2 391.24H1190.2V409.9H1170.2Z"/>
<path fill="#18668c" d="M1058.9 31.4H1075.1V51.97H1058.9ZM1138.4 31.4H1170.5V51.97H1138.4ZM1074.8 116.35H1091V132.82H1074.8ZM1027.1 294.22H1043.3V310.69H1027.1ZM1170.2 310.39H1190.2V326.86H1170.2ZM1154.3 358.9H1170.5V375.37H1154.3Z"/>
<path fill="#12c83c" d="M1090.7 31.4H1106.9V51.97H1090.7ZM1170.2 51.67H1190.2V68.14H1170.2ZM1170.2 67.84H1190.2V84.31H1170.2ZM963.5 84.01H979.7V100.48H963.5ZM1027.1 84.01H1043.3V100.48H1027.1ZM963.5 100.18H979.7V116.65H963.5ZM1011.2 100.18H1027.4V116.65H1011.2ZM1154.3 116.35H1170.5V132.82H1154.3ZM1090.7 132.52H1122.8V148.99H1090.7ZM1154.3 132.52H1170.5V148.99H1154.3ZM979.4 164.86H995.6V181.33H979.4ZM1090.7 164.86H1106.9V181.33H1090.7ZM979.4 197.2H995.6V213.67H979.4ZM1074.8 197.2H1106.9V213.67H1074.8ZM1138.4 213.37H1154.6V229.84H1138.4ZM1170.2 213.37H1190.2V229.84H1170.2ZM1106.6 229.54H1154.6V246.01H1106.6ZM995.3 245.71H1011.5V262.18H995.3ZM995.3 261.88H1011.5V278.35H995.3ZM1106.6 261.88H1138.7V278.35H1106.6ZM1138.4 278.05H1154.6V294.52H1138.4ZM1122.5 294.22H1138.7V310.69H1122.5ZM1170.2 294.22H1190.2V310.69H1170.2ZM1090.7 310.39H1106.9V326.86H1090.7ZM1106.6 326.56H1122.8V343.03H1106.6ZM1074.8 342.73H1106.9V359.2H1074.8ZM1058.9 358.9H1075.1V375.37H1058.9ZM1027.1 375.07H1043.3V391.54H1027.1ZM1138.4 391.24H1154.6V409.9H1138.4Z"/>
<path fill="#1cb866" d="M1122.5 31.4H1138.7V51.97H1122.5ZM963.5 51.67H979.7V68.14H963.5ZM1138.4 67.84H1154.6V84.31H1138.4ZM1106.6 84.01H1154.6V100.48H1106.6ZM995.3 100.18H1011.5V116.65H995.3ZM1058.9 100.18H1075.1V116.65H1058.9ZM1138.4 100.18H1170.5V116.65H1138.4ZM963.5 116.35H979.7V132.82H963.5ZM1138.4 116.35H1154.6V132.82H1138.4ZM1058.9 164.86H1075.1V181.33H1058.9ZM1074.8 181.03H1091V197.5H1074.8ZM1011.2 197.2H1027.4V213.67H1011.2ZM1011.2 213.37H1027.4V229.84H1011.2ZM1074.8 213.37H1106.9V229.84H1074.8ZM1074.8 229.54H1091V246.01H1074.8ZM979.4 245.71H995.6V262.18H979.4ZM1090.7 245.71H1138.7V262.18H1090.7ZM1027.1 261.88H1043.3V278.35H1027.1ZM947.6 278.05H963.8V294.52H947.6ZM1027.1 310.39H1043.3V326.86H1027.1ZM1122.5 310.39H1138.7V326.86H1122.5ZM979.4 326.56H995.6V343.03H979.4ZM1122.5 326.56H1138.7V343.03H1122.5ZM979.4 342.73H995.6V359.2H979.4ZM1058.9 342.73H1075.1V359.2H1058.9ZM1122.5 342.73H1138.7V359.2H1122.5ZM979.4 391.24H995.6V409.9H979.4ZM1090.7 391.24H1106.9V409.9H1090.7Z"/>
<path fill="#ec9e20" d="M1011.2 51.67H1027.4V68.14H1011.2ZM947.6 84.01H963.8V100.48H947.6ZM1043 100.18H1059.2V116.65H1043ZM947.6 148.69H963.8V165.16H947.6Z"/>
<path fill="#c2f605" d="M1027.1 51.67H1043.3V68.14H1027.1ZM1043 67.84H1059.2V84.31H1043ZM1043 84.01H1059.2V100.48H1043ZM817 100.18H836.6V116.65H817ZM931.7 116.35H947.9V132.82H931.7ZM1058.9 148.69H1075.1V165.16H1058.9ZM1170.2 148.69H1190.2V165.16H1170.2ZM1043 197.2H1059.2V213.67H1043ZM1138.4 197.2H1154.6V213.67H1138.4ZM995.3 229.54H1011.5V246.01H995.3ZM1058.9 229.54H1075.1V246.01H1058.9ZM1170.2 229.54H1190.2V246.01H1170.2ZM868.1 278.05H916.1V294.52H868.1ZM1043 278.05H1059.2V294.52H1043ZM899.9 294.22H932V310.69H899.9ZM884 310.39H900.2V326.86H884ZM915.8 310.39H932V326.86H915.8ZM884 326.56H900.2V343.03H884ZM817 358.9H836.6V375.37H817ZM884 358.9H900.2V375.37H884ZM1074.8 358.9H1091V375.37H1074.8ZM817 375.07H836.6V391.54H817ZM884 375.07H963.8V391.54H884ZM852.2 391.24H868.4V409.9H852.2ZM899.9 391.24H916.1V409.9H899.9ZM931.7 391.24H979.7V409.9H931.7Z"/>
<path fill="#1f868e" d="M1043 51.67H1059.2V68.14H1043ZM1138.4 51.67H1154.6V68.14H1138.4ZM1027.1 67.84H1043.3V84.31H1027.1ZM1090.7 84.01H1106.9V100.48H1090.7ZM979.4 100.18H995.6V116.65H979.4ZM1106.6 100.18H1122.8V116.65H1106.6ZM1027.1 116.35H1043.3V132.82H1027.1ZM1122.5 116.35H1138.7V132.82H1122.5ZM1011.2 294.22H1027.4V310.69H1011.2ZM1138.4 294.22H1154.6V310.69H1138.4ZM1138.4 310.39H1154.6V326.86H1138.4ZM1170.2 326.56H1190.2V343.03H1170.2ZM1011.2 342.73H1027.4V359.2H1011.2Z"/>
<path fill="#0c2a78" d="M1106.6 51.67H1138.7V68.14H1106.6ZM931.7 245.71H947.9V262.18H931.7ZM931.7 261.88H963.8V278.35H931.7ZM1138.4 342.73H1170.5V359.2H1138.4Z"/>
<path fill="#e4fb08" d="M915.8 67.84H932V84.31H915.8ZM1011.2 67.84H1027.4V84.31H1011.2ZM1058.9 67.84H1075.1V84.31H1058.9ZM868.1 116.35H884.3V132.82H868.1ZM995.3 132.52H1011.5V148.99H995.3ZM1043 148.69H1059.2V165.16H1043ZM868.1 164.86H884.3V181.33H868.1ZM915.8 164.86H932V181.33H915.8ZM1170.2 197.2H1190.2V213.67H1170.2ZM868.1 261.88H900.2V278.35H868.1ZM1011.2 261.88H1027.4V278.35H1011.2ZM1058.9 278.05H1075.1V294.52H1058.9ZM1090.7 278.05H1106.9V294.52H1090.7ZM947.6 310.39H963.8V326.86H947.6ZM868.1 326.56H884.3V343.03H868.1ZM915.8 326.56H932V343.03H915.8ZM868.1 342.73H900.2V359.2H868.1ZM915.8 342.73H932V359.2H915.8ZM836.3 358.9H852.5V375.37H836.3ZM899.9 358.9H963.8V375.37H899.9ZM852.2 375.07H868.4V391.54H852.2ZM884 391.24H900.2V409.9H884Z"/>
<path fill="#38dc10" d="M963.5 67.84H979.7V84.31H963.5ZM1058.9 84.01H1091V100.48H1058.9ZM1154.3 84.01H1170.5V100.48H1154.3ZM931.7 100.18H963.8V116.65H931.7ZM1058.9 116.35H1075.1V132.82H1058.9ZM1170.2 116.35H1190.2V132.82H1170.2ZM1138.4 132.52H1154.6V148.99H1138.4ZM1138.4 148.69H1154.6V165.16H1138.4ZM1138.4 164.86H1170.5V181.33H1138.4ZM1122.5 197.2H1138.7V213.67H1122.5ZM1154.3 197.2H1170.5V213.67H1154.3ZM1027.1 213.37H1043.3V229.84H1027.1ZM947.6 245.71H963.8V262.18H947.6ZM1043 261.88H1075.1V278.35H1043ZM1090.7 261.88H1106.9V278.35H1090.7ZM1138.4 261.88H1154.6V278.35H1138.4ZM1074.8 278.05H1091V294.52H1074.8ZM899.9 310.39H916.1V326.86H899.9ZM979.4 310.39H995.6V326.86H979.4ZM963.5 342.73H979.7V359.2H963.5ZM1058.9 375.07H1075.1V391.54H1058.9ZM1090.7 375.07H1106.9V391.54H1090.7Z"/>
<path fill="#e08424" d="M995.3 67.84H1011.5V84.31H995.3Z"/>
<path fill="#103c82" d="M1074.8 67.84H1091V84.31H1074.8ZM1106.6 116.35H1122.8V132.82H1106.6ZM1074.8 148.69H1091V165.16H1074.8ZM1154.3 278.05H1170.5V294.52H1154.3ZM1170.2 342.73H1190.2V359.2H1170.2ZM1170.2 358.9H1190.2V375.37H1170.2Z"/>
<path fill="#15528a" d="M1090.7 67.84H1138.7V84.31H1090.7ZM1122.5 100.18H1138.7V116.65H1122.5ZM1058.9 132.52H1075.1V148.99H1058.9ZM1138.4 358.9H1154.6V375.37H1138.4Z"/>
<path fill="#9cef0a" d="M1170.2 84.01H1190.2V100.48H1170.2ZM931.7 132.52H963.8V148.99H931.7ZM931.7 181.03H947.9V197.5H931.7ZM1138.4 181.03H1154.6V197.5H1138.4ZM1043 229.54H1059.2V246.01H1043ZM1058.9 245.71H1075.1V262.18H1058.9ZM1154.3 245.71H1170.5V262.18H1154.3ZM931.7 278.05H947.9V294.52H931.7ZM979.4 278.05H995.6V294.52H979.4ZM1106.6 278.05H1122.8V294.52H1106.6ZM1090.7 294.22H1106.9V310.69H1090.7ZM1043 358.9H1059.2V375.37H1043ZM836.3 375.07H852.5V391.54H836.3ZM963.5 375.07H979.7V391.54H963.5ZM1154.3 375.07H1170.5V391.54H1154.3ZM817 391.24H852.5V409.9H817ZM868.1 391.24H884.3V409.9H868.1Z"/>
<path fill="#fcee0c" d="M884 100.18H900.2V116.65H884ZM817 132.52H836.6V148.99H817ZM817 148.69H852.5V165.16H817ZM963.5 148.69H979.7V165.16H963.5ZM817 197.2H852.5V213.67H817ZM868.1 197.2H884.3V213.67H868.1ZM817 213.37H836.6V229.84H817ZM852.2 213.37H868.4V229.84H852.2ZM817 229.54H852.5V246.01H817ZM817 245.71H836.6V262.18H817ZM817 261.88H852.5V278.35H817ZM817 278.05H836.6V294.52H817ZM915.8 278.05H932V294.52H915.8ZM852.2 294.22H868.4V310.69H852.2ZM931.7 294.22H979.7V310.69H931.7ZM836.3 310.39H868.4V326.86H836.3ZM836.3 326.56H852.5V343.03H836.3ZM852.2 358.9H884.3V375.37H852.2ZM868.1 375.07H884.3V391.54H868.1Z"/>
<path fill="#c4533f" d="M1043 116.35H1059.2V132.82H1043Z"/>
<path fill="#d46f33" d="M1058.9 213.37H1075.1V229.84H1058.9Z"/>
</g></g>
<path fill="#000" d="M820 34.4H1187.2V406.9H820ZM821.1 35.9H1186.1V405.4H821.1Z" fill-rule="evenodd"/>
<line x1="905.5" y1="33.6" x2="905.5" y2="35.9" stroke="#000" stroke-width="1"/>
<text class="lab" x="877.8" y="23.8" textLength="55.1" lengthAdjust="spacingAndGlyphs">101°0&#39;E</text>
<line x1="1016" y1="33.6" x2="1016" y2="35.9" stroke="#000" stroke-width="1"/>
<text class="lab" x="987.7" y="23.8" textLength="54.8" lengthAdjust="spacingAndGlyphs">101°5&#39;E</text>
<line x1="1124" y1="33.6" x2="1124" y2="35.9" stroke="#000" stroke-width="1"/>
<text class="lab" x="1092.4" y="23.8" textLength="63.8" lengthAdjust="spacingAndGlyphs">101°10&#39;E</text>
<text class="pl" x="822.5" y="64.6" textLength="24.2" lengthAdjust="spacingAndGlyphs">(c)</text>
<rect x="1167.55" y="60" width="5.3" height="31" fill="#000"/>
<rect x="1154.85" y="73" width="30.7" height="5.3" fill="#000"/>
<rect x="1154.85" y="94.2" width="30.7" height="5.5" fill="#000"/>
<path d="M826.6 394.9V401.9H954.3V394.9" fill="none" stroke="#000" stroke-width="1.1"/>
<line x1="858.52" y1="397.1" x2="858.52" y2="401.9" stroke="#000" stroke-width="1.1"/>
<line x1="890.45" y1="397.1" x2="890.45" y2="401.9" stroke="#000" stroke-width="1.1"/>
<line x1="922.38" y1="397.1" x2="922.38" y2="401.9" stroke="#000" stroke-width="1.1"/>
<text class="sc" x="826.6" y="389.5" text-anchor="middle">0</text>
<text class="sc" x="890.45" y="389.5" text-anchor="middle">4</text>
<text class="sc" x="954.3" y="389.5" text-anchor="middle">8</text>
<text class="km" x="960.8" y="389.7">km</text>
<rect x="833.9" y="418.1" width="334.9" height="13.3" fill="url(#cbB)"/>
<text class="tk" transform="translate(844.4 441.4) rotate(-50)" text-anchor="end">420</text>
<line x1="889.32" y1="431.4" x2="889.32" y2="433.2" stroke="#444" stroke-width="0.9"/>
<text class="tk" transform="translate(900.22 441.4) rotate(-50)" text-anchor="end">350</text>
<line x1="945.13" y1="431.4" x2="945.13" y2="433.2" stroke="#444" stroke-width="0.9"/>
<text class="tk" transform="translate(956.03 441.4) rotate(-50)" text-anchor="end">280</text>
<line x1="1000.95" y1="431.4" x2="1000.95" y2="433.2" stroke="#444" stroke-width="0.9"/>
<text class="tk" transform="translate(1011.85 441.4) rotate(-50)" text-anchor="end">210</text>
<line x1="1056.77" y1="431.4" x2="1056.77" y2="433.2" stroke="#444" stroke-width="0.9"/>
<text class="tk" transform="translate(1067.67 441.4) rotate(-50)" text-anchor="end">140</text>
<line x1="1112.58" y1="431.4" x2="1112.58" y2="433.2" stroke="#444" stroke-width="0.9"/>
<text class="tk" transform="translate(1122.48 442.65) rotate(-50)" text-anchor="end">70</text>
<line x1="1168.4" y1="431.4" x2="1168.4" y2="433.2" stroke="#444" stroke-width="0.9"/>
<text class="tk" transform="translate(1177.3 443.9) rotate(-50)" text-anchor="end">0</text>
<text class="tt" x="873.8" y="478" textLength="247.5" lengthAdjust="spacingAndGlyphs">Sensible heat flux (H) (Wm<tspan dy="-6" font-size="11">-2</tspan><tspan dy="6">)</tspan></text>
</g>
<g id="pd">
<clipPath id="cld"><rect x="205" y="544.7" width="367.9" height="374.2"/></clipPath>
<g clip-path="url(#cld)"><g filter="url(#bl)" shape-rendering="crispEdges">
<path fill="#1a7c8e" d="M202 541.7H222.6V561.85H202ZM285.9 541.7H302.1V561.85H285.9ZM285.9 561.55H302.1V578.1H285.9ZM254.1 594.05H302.1V610.6H254.1ZM301.8 626.55H318V643.1H301.8ZM238.2 642.8H254.4V659.35H238.2ZM270 642.8H286.2V659.35H270ZM301.8 642.8H318V659.35H301.8ZM238.2 659.05H270.3V675.6H238.2ZM301.8 659.05H333.9V675.6H301.8ZM508.5 659.05H524.7V675.6H508.5ZM202 675.3H254.4V691.85H202ZM222.3 691.55H238.5V708.1H222.3ZM202 707.8H222.6V724.35H202ZM285.9 707.8H302.1V724.35H285.9ZM202 724.05H222.6V740.6H202ZM202 740.3H238.5V756.85H202ZM254.1 740.3H270.3V756.85H254.1ZM301.8 740.3H318V756.85H301.8ZM333.6 740.3H349.8V756.85H333.6ZM222.3 756.55H238.5V773.1H222.3ZM254.1 756.55H302.1V773.1H254.1ZM202 772.8H238.5V789.35H202ZM254.1 772.8H270.3V789.35H254.1ZM285.9 772.8H302.1V789.35H285.9ZM254.1 789.05H270.3V805.6H254.1ZM202 837.8H222.6V854.35H202ZM202 854.05H222.6V870.6H202ZM238.2 854.05H254.4V870.6H238.2ZM202 870.3H270.3V886.85H202ZM301.8 870.3H318V886.85H301.8ZM333.6 870.3H349.8V886.85H333.6ZM285.9 886.55H302.1V903.1H285.9ZM238.2 902.8H254.4V921.9H238.2ZM270 902.8H302.1V921.9H270Z"/>
<path fill="#186b8c" d="M222.3 541.7H254.4V561.85H222.3ZM270 541.7H286.2V561.85H270ZM202 561.55H238.5V578.1H202ZM202 577.8H238.5V594.35H202ZM285.9 577.8H302.1V594.35H285.9ZM202 594.05H254.4V610.6H202ZM556.2 594.05H575.9V610.6H556.2ZM285.9 642.8H302.1V659.35H285.9ZM202 691.55H222.6V708.1H202ZM254.1 724.05H333.9V740.6H254.1ZM238.2 740.3H254.4V756.85H238.2ZM270 740.3H286.2V756.85H270ZM238.2 756.55H254.4V773.1H238.2ZM202 789.05H222.6V805.6H202ZM222.3 837.8H238.5V854.35H222.3ZM254.1 837.8H270.3V854.35H254.1ZM285.9 854.05H318V870.6H285.9ZM254.1 886.55H270.3V903.1H254.1Z"/>
<path fill="#114686" d="M254.1 541.7H270.3V561.85H254.1ZM301.8 675.3H318V691.85H301.8ZM301.8 691.55H318V708.1H301.8ZM222.3 789.05H238.5V805.6H222.3ZM222.3 821.55H238.5V838.1H222.3Z"/>
<path fill="#1e968e" d="M301.8 541.7H318V561.85H301.8ZM301.8 577.8H333.9V594.35H301.8ZM540.3 577.8H556.5V594.35H540.3ZM301.8 594.05H318V610.6H301.8ZM540.3 594.05H556.5V610.6H540.3ZM238.2 610.3H270.3V626.85H238.2ZM301.8 610.3H318V626.85H301.8ZM254.1 626.55H286.2V643.1H254.1ZM556.2 659.05H575.9V675.6H556.2ZM254.1 675.3H270.3V691.85H254.1ZM270 691.55H302.1V708.1H270ZM238.2 707.8H254.4V724.35H238.2ZM222.3 724.05H254.4V740.6H222.3ZM301.8 772.8H318V789.35H301.8ZM285.9 789.05H302.1V805.6H285.9ZM317.7 789.05H333.9V805.6H317.7ZM254.1 821.55H270.3V838.1H254.1ZM317.7 821.55H333.9V838.1H317.7ZM270 837.8H286.2V854.35H270ZM270 854.05H286.2V870.6H270ZM333.6 854.05H349.8V870.6H333.6ZM270 870.3H286.2V886.85H270ZM317.7 870.3H333.9V886.85H317.7ZM222.3 886.55H238.5V903.1H222.3ZM301.8 886.55H333.9V903.1H301.8ZM202 902.8H238.5V921.9H202ZM254.1 902.8H270.3V921.9H254.1Z"/>
<path fill="#20a480" d="M317.7 541.7H349.8V561.85H317.7ZM301.8 561.55H318V578.1H301.8ZM556.2 626.55H575.9V643.1H556.2ZM492.6 659.05H508.8V675.6H492.6ZM317.7 707.8H333.9V724.35H317.7ZM413.1 724.05H429.3V740.6H413.1ZM317.7 740.3H333.9V756.85H317.7ZM238.2 805.3H254.4V821.85H238.2ZM285.9 805.3H333.9V821.85H285.9ZM301.8 821.55H318V838.1H301.8ZM333.6 821.55H349.8V838.1H333.6ZM285.9 837.8H318V854.35H285.9ZM317.7 854.05H333.9V870.6H317.7ZM349.5 902.8H365.7V921.9H349.5Z"/>
<path fill="#38dc10" d="M349.5 541.7H365.7V561.85H349.5ZM333.6 594.05H349.8V610.6H333.6ZM444.9 594.05H461.1V610.6H444.9ZM333.6 610.3H349.8V626.85H333.6ZM492.6 642.8H508.8V659.35H492.6ZM333.6 691.55H349.8V708.1H333.6ZM333.6 707.8H349.8V724.35H333.6ZM365.4 724.05H381.6V740.6H365.4ZM429 724.05H445.2V740.6H429ZM540.3 724.05H556.5V740.6H540.3ZM365.4 740.3H381.6V756.85H365.4ZM429 740.3H445.2V756.85H429ZM429 756.55H445.2V773.1H429ZM397.2 772.8H413.4V789.35H397.2ZM476.7 772.8H492.9V789.35H476.7ZM333.6 789.05H349.8V805.6H333.6ZM349.5 837.8H365.7V854.35H349.5ZM413.1 837.8H429.3V854.35H413.1ZM349.5 870.3H365.7V886.85H349.5ZM492.6 886.55H508.8V903.1H492.6ZM524.4 886.55H540.6V903.1H524.4ZM429 902.8H445.2V921.9H429ZM540.3 902.8H556.5V921.9H540.3Z"/>
<path fill="#0cd416" d="M365.4 541.7H381.6V561.85H365.4ZM476.7 541.7H492.9V561.85H476.7ZM397.2 561.55H413.4V578.1H397.2ZM333.6 577.8H349.8V594.35H333.6ZM508.5 577.8H540.6V594.35H508.5ZM492.6 594.05H508.8V610.6H492.6ZM524.4 594.05H540.6V610.6H524.4ZM524.4 610.3H540.6V626.85H524.4ZM317.7 626.55H333.9V643.1H317.7ZM540.3 626.55H556.5V643.1H540.3ZM317.7 642.8H333.9V659.35H317.7ZM540.3 642.8H556.5V659.35H540.3ZM333.6 675.3H349.8V691.85H333.6ZM413.1 675.3H445.2V691.85H413.1ZM524.4 675.3H540.6V691.85H524.4ZM413.1 691.55H445.2V708.1H413.1ZM460.8 691.55H477V708.1H460.8ZM492.6 691.55H508.8V708.1H492.6ZM540.3 691.55H556.5V708.1H540.3ZM460.8 707.8H477V724.35H460.8ZM540.3 707.8H556.5V724.35H540.3ZM397.2 724.05H413.4V740.6H397.2ZM492.6 724.05H524.7V740.6H492.6ZM413.1 740.3H429.3V756.85H413.1ZM333.6 756.55H365.7V773.1H333.6ZM365.4 772.8H381.6V789.35H365.4ZM524.4 772.8H540.6V789.35H524.4ZM429 805.3H445.2V821.85H429ZM349.5 821.55H365.7V838.1H349.5ZM429 821.55H445.2V838.1H429ZM429 837.8H445.2V854.35H429Z"/>
<path fill="#fcf907" d="M381.3 541.7H397.5V561.85H381.3ZM333.6 561.55H349.8V578.1H333.6ZM524.4 561.55H540.6V578.1H524.4ZM349.5 577.8H365.7V594.35H349.5ZM381.3 594.05H413.4V610.6H381.3ZM429 642.8H445.2V659.35H429ZM476.7 642.8H492.9V659.35H476.7ZM381.3 659.05H397.5V675.6H381.3ZM349.5 675.3H365.7V691.85H349.5ZM397.2 691.55H413.4V708.1H397.2ZM349.5 707.8H365.7V724.35H349.5ZM397.2 707.8H413.4V724.35H397.2ZM476.7 724.05H492.9V740.6H476.7ZM460.8 740.3H477V756.85H460.8ZM492.6 740.3H524.7V756.85H492.6ZM317.7 756.55H333.9V773.1H317.7ZM397.2 756.55H413.4V773.1H397.2ZM381.3 772.8H397.5V789.35H381.3ZM413.1 772.8H429.3V789.35H413.1ZM460.8 772.8H477V789.35H460.8ZM381.3 789.05H397.5V805.6H381.3ZM413.1 789.05H429.3V805.6H413.1ZM556.2 789.05H575.9V805.6H556.2ZM556.2 805.3H575.9V821.85H556.2ZM492.6 821.55H508.8V838.1H492.6ZM540.3 821.55H556.5V838.1H540.3ZM397.2 837.8H413.4V854.35H397.2ZM460.8 837.8H477V854.35H460.8ZM444.9 870.3H461.1V886.85H444.9ZM444.9 886.55H461.1V903.1H444.9ZM556.2 886.55H575.9V903.1H556.2Z"/>
<path fill="#f2b71d" d="M397.2 541.7H429.3V561.85H397.2ZM524.4 541.7H540.6V561.85H524.4ZM381.3 610.3H397.5V626.85H381.3ZM460.8 610.3H477V626.85H460.8ZM349.5 626.55H365.7V643.1H349.5ZM460.8 626.55H477V643.1H460.8ZM349.5 642.8H365.7V659.35H349.5ZM397.2 642.8H413.4V659.35H397.2ZM397.2 659.05H413.4V675.6H397.2ZM381.3 691.55H397.5V708.1H381.3ZM556.2 756.55H575.9V773.1H556.2ZM349.5 789.05H365.7V805.6H349.5ZM508.5 789.05H524.7V805.6H508.5ZM397.2 805.3H429.3V821.85H397.2ZM492.6 805.3H508.8V821.85H492.6ZM397.2 821.55H413.4V838.1H397.2ZM508.5 821.55H540.6V838.1H508.5ZM524.4 837.8H556.5V854.35H524.4ZM492.6 854.05H508.8V870.6H492.6ZM476.7 870.3H492.9V886.85H476.7ZM508.5 870.3H524.7V886.85H508.5Z"/>
<path fill="#ec9e20" d="M429 541.7H461.1V561.85H429ZM508.5 561.55H524.7V578.1H508.5ZM413.1 577.8H429.3V594.35H413.1ZM460.8 577.8H492.9V594.35H460.8ZM365.4 594.05H381.6V610.6H365.4ZM365.4 610.3H381.6V626.85H365.4ZM492.6 610.3H508.8V626.85H492.6ZM317.7 772.8H349.8V789.35H317.7ZM540.3 789.05H556.5V805.6H540.3ZM556.2 821.55H575.9V838.1H556.2ZM556.2 837.8H575.9V854.35H556.2ZM556.2 854.05H575.9V870.6H556.2ZM540.3 870.3H575.9V886.85H540.3Z"/>
<path fill="#9cef0a" d="M460.8 541.7H477V561.85H460.8ZM540.3 561.55H556.5V578.1H540.3ZM365.4 577.8H381.6V594.35H365.4ZM397.2 577.8H413.4V594.35H397.2ZM444.9 577.8H461.1V594.35H444.9ZM492.6 577.8H508.8V594.35H492.6ZM413.1 659.05H429.3V675.6H413.1ZM476.7 675.3H492.9V691.85H476.7ZM349.5 724.05H365.7V740.6H349.5ZM381.3 740.3H397.5V756.85H381.3ZM556.2 740.3H575.9V756.85H556.2ZM508.5 756.55H524.7V773.1H508.5ZM508.5 772.8H524.7V789.35H508.5ZM444.9 789.05H477V805.6H444.9ZM365.4 837.8H381.6V854.35H365.4ZM444.9 837.8H461.1V854.35H444.9ZM365.4 854.05H381.6V870.6H365.4ZM460.8 870.3H477V886.85H460.8ZM349.5 886.55H365.7V903.1H349.5ZM540.3 886.55H556.5V903.1H540.3ZM524.4 902.8H540.6V921.9H524.4Z"/>
<path fill="#fae313" d="M492.6 541.7H508.8V561.85H492.6ZM381.3 561.55H397.5V578.1H381.3ZM333.6 626.55H349.8V643.1H333.6ZM365.4 626.55H381.6V643.1H365.4ZM460.8 642.8H477V659.35H460.8ZM365.4 675.3H397.5V691.85H365.4ZM460.8 675.3H477V691.85H460.8ZM540.3 740.3H556.5V756.85H540.3ZM460.8 756.55H477V773.1H460.8ZM492.6 756.55H508.8V773.1H492.6ZM397.2 789.05H413.4V805.6H397.2ZM508.5 805.3H524.7V821.85H508.5ZM476.7 837.8H508.8V854.35H476.7ZM444.9 854.05H461.1V870.6H444.9ZM492.6 870.3H508.8V886.85H492.6ZM397.2 886.55H429.3V903.1H397.2ZM460.8 886.55H477V903.1H460.8ZM397.2 902.8H429.3V921.9H397.2ZM444.9 902.8H477V921.9H444.9ZM508.5 902.8H524.7V921.9H508.5Z"/>
<path fill="#f8d014" d="M508.5 541.7H524.7V561.85H508.5ZM540.3 541.7H556.5V561.85H540.3ZM349.5 561.55H381.6V578.1H349.5ZM429 561.55H445.2V578.1H429ZM476.7 594.05H492.9V610.6H476.7ZM349.5 610.3H365.7V626.85H349.5ZM397.2 610.3H413.4V626.85H397.2ZM444.9 610.3H461.1V626.85H444.9ZM476.7 610.3H492.9V626.85H476.7ZM508.5 610.3H524.7V626.85H508.5ZM381.3 626.55H413.4V643.1H381.3ZM444.9 626.55H461.1V643.1H444.9ZM508.5 626.55H524.7V643.1H508.5ZM365.4 642.8H381.6V659.35H365.4ZM365.4 659.05H381.6V675.6H365.4ZM397.2 675.3H413.4V691.85H397.2ZM444.9 675.3H461.1V691.85H444.9ZM365.4 691.55H381.6V708.1H365.4ZM365.4 707.8H397.5V724.35H365.4ZM556.2 724.05H575.9V740.6H556.2ZM397.2 740.3H413.4V756.85H397.2ZM413.1 756.55H429.3V773.1H413.1ZM476.7 756.55H492.9V773.1H476.7ZM556.2 772.8H575.9V789.35H556.2ZM524.4 789.05H540.6V805.6H524.4ZM381.3 805.3H397.5V821.85H381.3ZM524.4 805.3H556.5V821.85H524.4ZM381.3 821.55H397.5V838.1H381.3ZM476.7 821.55H492.9V838.1H476.7ZM381.3 837.8H397.5V854.35H381.3ZM508.5 837.8H524.7V854.35H508.5ZM397.2 854.05H429.3V870.6H397.2ZM460.8 854.05H492.9V870.6H460.8ZM508.5 854.05H524.7V870.6H508.5ZM397.2 870.3H413.4V886.85H397.2Z"/>
<path fill="#12c83c" d="M556.2 541.7H575.9V561.85H556.2ZM317.7 561.55H333.9V578.1H317.7ZM381.3 577.8H397.5V594.35H381.3ZM556.2 577.8H575.9V594.35H556.2ZM317.7 594.05H333.9V610.6H317.7ZM508.5 594.05H524.7V610.6H508.5ZM429 610.3H445.2V626.85H429ZM540.3 610.3H556.5V626.85H540.3ZM508.5 642.8H540.6V659.35H508.5ZM556.2 642.8H575.9V659.35H556.2ZM333.6 659.05H349.8V675.6H333.6ZM317.7 675.3H333.9V691.85H317.7ZM508.5 675.3H524.7V691.85H508.5ZM556.2 675.3H575.9V691.85H556.2ZM317.7 691.55H333.9V708.1H317.7ZM444.9 691.55H461.1V708.1H444.9ZM476.7 691.55H492.9V708.1H476.7ZM508.5 691.55H540.6V708.1H508.5ZM492.6 707.8H508.8V724.35H492.6ZM524.4 707.8H540.6V724.35H524.4ZM333.6 724.05H349.8V740.6H333.6ZM349.5 740.3H365.7V756.85H349.5ZM524.4 756.55H540.6V773.1H524.4ZM254.1 805.3H286.2V821.85H254.1ZM349.5 854.05H365.7V870.6H349.5ZM317.7 902.8H349.8V921.9H317.7Z"/>
<path fill="#155a8a" d="M238.2 561.55H254.4V578.1H238.2ZM270 561.55H286.2V578.1H270ZM238.2 577.8H286.2V594.35H238.2ZM285.9 675.3H302.1V691.85H285.9ZM301.8 707.8H318V724.35H301.8ZM202 805.3H222.6V821.85H202ZM202 821.55H222.6V838.1H202ZM238.2 821.55H254.4V838.1H238.2ZM238.2 837.8H254.4V854.35H238.2ZM222.3 854.05H238.5V870.6H222.3Z"/>
<path fill="#0d3380" d="M254.1 561.55H270.3V578.1H254.1ZM222.3 805.3H238.5V821.85H222.3Z"/>
<path fill="#e4fb08" d="M413.1 561.55H429.3V578.1H413.1ZM413.1 610.3H429.3V626.85H413.1ZM333.6 642.8H349.8V659.35H333.6ZM413.1 642.8H429.3V659.35H413.1ZM349.5 691.55H365.7V708.1H349.5ZM381.3 724.05H397.5V740.6H381.3ZM349.5 772.8H365.7V789.35H349.5ZM444.9 772.8H461.1V789.35H444.9ZM413.1 870.3H429.3V886.85H413.1ZM556.2 902.8H575.9V921.9H556.2Z"/>
<path fill="#68e50c" d="M444.9 561.55H492.9V578.1H444.9ZM413.1 594.05H429.3V610.6H413.1ZM460.8 594.05H477V610.6H460.8ZM317.7 610.3H333.9V626.85H317.7ZM413.1 626.55H429.3V643.1H413.1ZM524.4 626.55H540.6V643.1H524.4ZM556.2 691.55H575.9V708.1H556.2ZM444.9 707.8H461.1V724.35H444.9ZM476.7 707.8H492.9V724.35H476.7ZM556.2 707.8H575.9V724.35H556.2ZM460.8 724.05H477V740.6H460.8ZM524.4 740.3H540.6V756.85H524.4ZM365.4 756.55H381.6V773.1H365.4ZM540.3 756.55H556.5V773.1H540.3ZM540.3 772.8H556.5V789.35H540.3ZM476.7 789.05H492.9V805.6H476.7ZM429 854.05H445.2V870.6H429ZM365.4 870.3H381.6V886.85H365.4ZM476.7 902.8H508.8V921.9H476.7Z"/>
<path fill="#d46f33" d="M492.6 561.55H508.8V578.1H492.6Z"/>
<path fill="#1cb866" d="M556.2 561.55H575.9V578.1H556.2ZM429 577.8H445.2V594.35H429ZM429 594.05H445.2V610.6H429ZM429 626.55H445.2V643.1H429ZM524.4 659.05H556.5V675.6H524.4ZM492.6 675.3H508.8V691.85H492.6ZM540.3 675.3H556.5V691.85H540.3ZM413.1 707.8H445.2V724.35H413.1ZM508.5 707.8H524.7V724.35H508.5ZM444.9 724.05H461.1V740.6H444.9ZM349.5 805.3H365.7V821.85H349.5ZM270 821.55H302.1V838.1H270ZM317.7 837.8H349.8V854.35H317.7Z"/>
<path fill="#c4533f" d="M349.5 594.05H365.7V610.6H349.5Z"/>
<path fill="#1c8a8f" d="M202 610.3H238.5V626.85H202ZM270 610.3H302.1V626.85H270ZM556.2 610.3H575.9V626.85H556.2ZM202 626.55H254.4V643.1H202ZM285.9 626.55H302.1V643.1H285.9ZM202 642.8H238.5V659.35H202ZM254.1 642.8H270.3V659.35H254.1ZM202 659.05H238.5V675.6H202ZM270 659.05H302.1V675.6H270ZM270 675.3H286.2V691.85H270ZM238.2 691.55H270.3V708.1H238.2ZM222.3 707.8H238.5V724.35H222.3ZM254.1 707.8H286.2V724.35H254.1ZM285.9 740.3H302.1V756.85H285.9ZM202 756.55H222.6V773.1H202ZM301.8 756.55H318V773.1H301.8ZM270 772.8H286.2V789.35H270ZM238.2 789.05H254.4V805.6H238.2ZM270 789.05H286.2V805.6H270ZM301.8 789.05H318V805.6H301.8ZM333.6 805.3H349.8V821.85H333.6ZM254.1 854.05H270.3V870.6H254.1ZM285.9 870.3H302.1V886.85H285.9ZM202 886.55H222.6V903.1H202ZM238.2 886.55H254.4V903.1H238.2ZM270 886.55H286.2V903.1H270ZM333.6 886.55H349.8V903.1H333.6ZM301.8 902.8H318V921.9H301.8Z"/>
<path fill="#c2f605" d="M476.7 626.55H492.9V643.1H476.7ZM381.3 642.8H397.5V659.35H381.3ZM349.5 659.05H365.7V675.6H349.5ZM429 659.05H461.1V675.6H429ZM476.7 659.05H492.9V675.6H476.7ZM524.4 724.05H540.6V740.6H524.4ZM444.9 740.3H461.1V756.85H444.9ZM476.7 740.3H492.9V756.85H476.7ZM381.3 756.55H397.5V773.1H381.3ZM444.9 756.55H461.1V773.1H444.9ZM429 772.8H445.2V789.35H429ZM492.6 772.8H508.8V789.35H492.6ZM365.4 789.05H381.6V805.6H365.4ZM429 789.05H445.2V805.6H429ZM492.6 789.05H508.8V805.6H492.6ZM365.4 805.3H381.6V821.85H365.4ZM444.9 805.3H492.9V821.85H444.9ZM365.4 821.55H381.6V838.1H365.4ZM413.1 821.55H429.3V838.1H413.1ZM444.9 821.55H477V838.1H444.9ZM381.3 854.05H397.5V870.6H381.3ZM381.3 870.3H397.5V886.85H381.3ZM429 870.3H445.2V886.85H429ZM429 886.55H445.2V903.1H429ZM476.7 886.55H492.9V903.1H476.7ZM508.5 886.55H524.7V903.1H508.5Z"/>
<path fill="#e08424" d="M492.6 626.55H508.8V643.1H492.6ZM444.9 642.8H461.1V659.35H444.9ZM460.8 659.05H477V675.6H460.8ZM524.4 854.05H556.5V870.6H524.4ZM524.4 870.3H540.6V886.85H524.4Z"/>
<path fill="#0c2a78" d="M238.2 772.8H254.4V789.35H238.2ZM365.4 886.55H397.5V903.1H365.4ZM365.4 902.8H397.5V921.9H365.4Z"/>
</g></g>
<path fill="#000" d="M205 544.7H572.9V918.9H205ZM207.2 545.8H571.9V916.9H207.2Z" fill-rule="evenodd"/>
<line x1="291.3" y1="543.9" x2="291.3" y2="546.2" stroke="#000" stroke-width="1"/>
<text class="lab" x="263.1" y="533.8" textLength="55.5" lengthAdjust="spacingAndGlyphs">101°0&#39;E</text>
<line x1="401.9" y1="543.9" x2="401.9" y2="546.2" stroke="#000" stroke-width="1"/>
<text class="lab" x="372.7" y="533.8" textLength="55.5" lengthAdjust="spacingAndGlyphs">101°5&#39;E</text>
<line x1="509.9" y1="543.9" x2="509.9" y2="546.2" stroke="#000" stroke-width="1"/>
<text class="lab" x="478.4" y="533.8" textLength="63.8" lengthAdjust="spacingAndGlyphs">101°10&#39;E</text>
<text class="pl" x="206.8" y="576" textLength="27.3" lengthAdjust="spacingAndGlyphs">(d)</text>
<rect x="552.85" y="570" width="5.3" height="31" fill="#000"/>
<rect x="540.15" y="583" width="30.7" height="5.3" fill="#000"/>
<rect x="540.15" y="604.2" width="30.7" height="5.5" fill="#000"/>
<path d="M212.4 906.4V913.4H339.5V906.4" fill="none" stroke="#000" stroke-width="1.1"/>
<line x1="244.18" y1="908.6" x2="244.18" y2="913.4" stroke="#000" stroke-width="1.1"/>
<line x1="275.95" y1="908.6" x2="275.95" y2="913.4" stroke="#000" stroke-width="1.1"/>
<line x1="307.73" y1="908.6" x2="307.73" y2="913.4" stroke="#000" stroke-width="1.1"/>
<text class="sc" x="212.4" y="901" text-anchor="middle">0</text>
<text class="sc" x="275.95" y="901" text-anchor="middle">4</text>
<text class="sc" x="339.5" y="901" text-anchor="middle">8</text>
<text class="km" x="346" y="901.2">km</text>
<rect x="219.9" y="929.8" width="334.9" height="14" fill="url(#cbB)"/>
<text class="tk" transform="translate(230.4 953.8) rotate(-50)" text-anchor="end">600</text>
<line x1="275.32" y1="943.8" x2="275.32" y2="945.6" stroke="#444" stroke-width="0.9"/>
<text class="tk" transform="translate(286.22 953.8) rotate(-50)" text-anchor="end">500</text>
<line x1="331.13" y1="943.8" x2="331.13" y2="945.6" stroke="#444" stroke-width="0.9"/>
<text class="tk" transform="translate(342.03 953.8) rotate(-50)" text-anchor="end">400</text>
<line x1="386.95" y1="943.8" x2="386.95" y2="945.6" stroke="#444" stroke-width="0.9"/>
<text class="tk" transform="translate(397.85 953.8) rotate(-50)" text-anchor="end">300</text>
<line x1="442.77" y1="943.8" x2="442.77" y2="945.6" stroke="#444" stroke-width="0.9"/>
<text class="tk" transform="translate(453.67 953.8) rotate(-50)" text-anchor="end">200</text>
<line x1="498.58" y1="943.8" x2="498.58" y2="945.6" stroke="#444" stroke-width="0.9"/>
<text class="tk" transform="translate(509.48 953.8) rotate(-50)" text-anchor="end">100</text>
<line x1="554.4" y1="943.8" x2="554.4" y2="945.6" stroke="#444" stroke-width="0.9"/>
<text class="tk" transform="translate(557.2 959.2) rotate(-50)" text-anchor="end">0</text>
<text class="tt" x="244.8" y="989.6" textLength="276.8" lengthAdjust="spacingAndGlyphs">LE based on IPUS model (Wm<tspan dy="-6" font-size="11">-2</tspan><tspan dy="6">)</tspan></text>
</g>
<g id="pe">
<clipPath id="cle"><rect x="643" y="547.4" width="369.4" height="375.5"/></clipPath>
<g clip-path="url(#cle)"><g filter="url(#bl)" shape-rendering="crispEdges">
<path fill="#1a7c8e" d="M640 544.4H660.08V564.79H640ZM707.72 544.4H739.98V564.79H707.72ZM640 564.49H660.08V581.08H640ZM723.7 564.49H739.98V581.08H723.7ZM640 597.07H676.06V613.66H640ZM691.74 597.07H739.98V613.66H691.74ZM995.36 597.07H1015.4V613.66H995.36ZM739.68 629.65H755.96V646.24H739.68ZM675.76 645.94H692.04V662.53H675.76ZM675.76 662.23H692.04V678.82H675.76ZM640 678.52H676.06V695.11H640ZM640 694.81H676.06V711.4H640ZM739.68 694.81H755.96V711.4H739.68ZM640 711.1H660.08V727.69H640ZM723.7 727.39H755.96V743.98H723.7ZM835.56 727.39H851.84V743.98H835.56ZM659.78 743.68H676.06V760.27H659.78ZM691.74 743.68H708.02V760.27H691.74ZM739.68 743.68H755.96V760.27H739.68ZM851.54 743.68H867.82V760.27H851.54ZM659.78 759.97H676.06V776.56H659.78ZM707.72 759.97H739.98V776.56H707.72ZM640 776.26H676.06V792.85H640ZM691.74 776.26H708.02V792.85H691.74ZM723.7 776.26H739.98V792.85H723.7ZM640 841.42H660.08V858.01H640ZM691.74 841.42H708.02V858.01H691.74ZM640 857.71H660.08V874.3H640ZM723.7 857.71H739.98V874.3H723.7ZM640 874H660.08V890.59H640ZM691.74 874H708.02V890.59H691.74ZM803.6 874H819.88V890.59H803.6ZM691.74 890.29H708.02V906.88H691.74ZM819.58 890.29H835.86V906.88H819.58Z"/>
<path fill="#186b8c" d="M659.78 544.4H692.04V564.79H659.78ZM659.78 564.49H676.06V581.08H659.78ZM640 580.78H676.06V597.37H640ZM723.7 580.78H739.98V597.37H723.7ZM675.76 597.07H692.04V613.66H675.76ZM739.68 662.23H755.96V678.82H739.68ZM723.7 678.52H755.96V695.11H723.7ZM691.74 727.39H724V743.98H691.74ZM675.76 743.68H692.04V760.27H675.76ZM707.72 743.68H724V760.27H707.72ZM755.66 743.68H787.92V760.27H755.66ZM675.76 759.97H708.02V776.56H675.76ZM640 792.55H660.08V809.14H640ZM659.78 841.42H676.06V858.01H659.78ZM659.78 857.71H676.06V874.3H659.78ZM739.68 857.71H755.96V874.3H739.68ZM803.6 890.29H819.88V906.88H803.6Z"/>
<path fill="#114686" d="M691.74 544.4H708.02V564.79H691.74ZM659.78 792.55H676.06V809.14H659.78ZM659.78 825.13H676.06V841.72H659.78Z"/>
<path fill="#1e968e" d="M739.68 544.4H755.96V564.79H739.68ZM739.68 564.49H755.96V581.08H739.68ZM979.38 580.78H995.66V597.37H979.38ZM739.68 597.07H755.96V613.66H739.68ZM979.38 597.07H995.66V613.66H979.38ZM640 613.36H660.08V629.95H640ZM675.76 613.36H708.02V629.95H675.76ZM723.7 613.36H739.98V629.95H723.7ZM995.36 613.36H1015.4V629.95H995.36ZM640 629.65H739.98V646.24H640ZM640 645.94H660.08V662.53H640ZM739.68 645.94H755.96V662.53H739.68ZM640 662.23H676.06V678.82H640ZM707.72 662.23H724V678.82H707.72ZM995.36 662.23H1015.4V678.82H995.36ZM691.74 678.52H724V695.11H691.74ZM851.54 678.52H867.82V695.11H851.54ZM691.74 694.81H724V711.4H691.74ZM755.66 694.81H771.94V711.4H755.66ZM851.54 694.81H867.82V711.4H851.54ZM675.76 711.1H692.04V727.69H675.76ZM851.54 711.1H867.82V727.69H851.54ZM659.78 727.39H692.04V743.98H659.78ZM771.64 727.39H787.92V743.98H771.64ZM851.54 727.39H867.82V743.98H851.54ZM707.72 776.26H724V792.85H707.72ZM675.76 792.55H692.04V809.14H675.76ZM723.7 792.55H771.94V809.14H723.7ZM675.76 808.84H692.04V825.43H675.76ZM691.74 825.13H708.02V841.72H691.74ZM707.72 841.42H739.98V858.01H707.72ZM691.74 857.71H724V874.3H691.74ZM707.72 874H724V890.59H707.72ZM659.78 890.29H692.04V906.88H659.78ZM739.68 890.29H803.9V906.88H739.68ZM640 906.58H676.06V925.9H640ZM691.74 906.58H708.02V925.9H691.74ZM739.68 906.58H755.96V925.9H739.68ZM803.6 906.58H835.86V925.9H803.6Z"/>
<path fill="#20a480" d="M755.66 544.4H787.92V564.79H755.66ZM755.66 564.49H771.94V581.08H755.66ZM739.68 580.78H771.94V597.37H739.68ZM739.68 613.36H755.96V629.95H739.68ZM995.36 629.65H1015.4V646.24H995.36ZM755.66 645.94H771.94V662.53H755.66ZM787.62 727.39H803.9V743.98H787.62ZM739.68 759.97H755.96V776.56H739.68ZM787.62 759.97H819.88V776.56H787.62ZM723.7 808.84H755.96V825.43H723.7ZM771.64 808.84H787.92V825.43H771.64ZM723.7 825.13H787.92V841.72H723.7ZM739.68 841.42H803.9V858.01H739.68ZM755.66 857.71H803.9V874.3H755.66Z"/>
<path fill="#0cd416" d="M787.62 544.4H803.9V564.79H787.62ZM979.38 564.49H995.66V581.08H979.38ZM947.42 580.78H979.68V597.37H947.42ZM963.4 597.07H979.68V613.66H963.4ZM771.64 613.36H787.92V629.95H771.64ZM755.66 629.65H771.94V646.24H755.66ZM963.4 629.65H995.66V646.24H963.4ZM803.6 645.94H819.88V662.53H803.6ZM931.44 645.94H995.66V662.53H931.44ZM851.54 662.23H867.82V678.82H851.54ZM915.46 662.23H931.74V678.82H915.46ZM963.4 678.52H979.68V695.11H963.4ZM899.48 694.81H947.72V711.4H899.48ZM963.4 694.81H995.66V711.4H963.4ZM931.44 711.1H947.72V727.69H931.44ZM963.4 711.1H979.68V727.69H963.4ZM931.44 727.39H963.7V743.98H931.44ZM819.58 759.97H835.86V776.56H819.58ZM963.4 759.97H979.68V776.56H963.4ZM739.68 776.26H755.96V792.85H739.68ZM787.62 792.55H803.9V809.14H787.62ZM851.54 792.55H867.82V809.14H851.54ZM787.62 808.84H803.9V825.43H787.62ZM851.54 808.84H867.82V825.43H851.54ZM803.6 841.42H819.88V858.01H803.6ZM851.54 841.42H867.82V858.01H851.54ZM787.62 874H803.9V890.59H787.62ZM963.4 890.29H979.68V906.88H963.4ZM835.56 906.58H851.84V925.9H835.56ZM947.42 906.58H963.7V925.9H947.42ZM995.36 906.58H1015.4V925.9H995.36Z"/>
<path fill="#fae313" d="M803.6 544.4H819.88V564.79H803.6ZM963.4 564.49H979.68V581.08H963.4ZM835.56 597.07H867.82V613.66H835.56ZM835.56 629.65H851.84V646.24H835.56ZM771.64 645.94H787.92V662.53H771.64ZM819.58 678.52H835.86V695.11H819.58ZM883.5 678.52H899.78V695.11H883.5ZM787.62 694.81H803.9V711.4H787.62ZM995.36 711.1H1015.4V727.69H995.36ZM835.56 759.97H851.84V776.56H835.56ZM867.52 759.97H883.8V776.56H867.52ZM915.46 759.97H931.74V776.56H915.46ZM771.64 776.26H787.92V792.85H771.64ZM899.48 776.26H915.76V792.85H899.48ZM995.36 776.26H1015.4V792.85H995.36ZM915.46 792.55H947.72V809.14H915.46ZM803.6 808.84H819.88V825.43H803.6ZM979.38 808.84H995.66V825.43H979.38ZM931.44 825.13H947.72V841.72H931.44ZM963.4 825.13H979.68V841.72H963.4ZM899.48 841.42H915.76V858.01H899.48ZM947.42 874H963.7V890.59H947.42ZM883.5 890.29H899.78V906.88H883.5ZM883.5 906.58H899.78V925.9H883.5Z"/>
<path fill="#f8d014" d="M819.58 544.4H835.86V564.79H819.58ZM899.48 544.4H915.76V564.79H899.48ZM835.56 564.49H851.84V581.08H835.56ZM867.52 564.49H915.76V581.08H867.52ZM947.42 564.49H963.7V581.08H947.42ZM915.46 580.78H931.74V597.37H915.46ZM771.64 597.07H787.92V613.66H771.64ZM883.5 597.07H931.74V613.66H883.5ZM819.58 613.36H835.86V629.95H819.58ZM867.52 613.36H883.8V629.95H867.52ZM787.62 629.65H803.9V646.24H787.62ZM899.48 645.94H915.76V662.53H899.48ZM803.6 662.23H819.88V678.82H803.6ZM883.5 662.23H915.76V678.82H883.5ZM803.6 711.1H819.88V727.69H803.6ZM883.5 711.1H899.78V727.69H883.5ZM883.5 727.39H899.78V743.98H883.5ZM995.36 727.39H1015.4V743.98H995.36ZM883.5 743.68H899.78V760.27H883.5ZM995.36 743.68H1015.4V760.27H995.36ZM883.5 759.97H915.76V776.56H883.5ZM995.36 759.97H1015.4V776.56H995.36ZM883.5 776.26H899.78V792.85H883.5ZM835.56 792.55H851.84V809.14H835.56ZM867.52 792.55H899.78V809.14H867.52ZM947.42 792.55H1015.4V809.14H947.42ZM883.5 808.84H899.78V825.43H883.5ZM915.46 808.84H931.74V825.43H915.46ZM947.42 808.84H963.7V825.43H947.42ZM995.36 808.84H1015.4V825.43H995.36ZM883.5 825.13H931.74V841.72H883.5ZM979.38 825.13H1015.4V841.72H979.38ZM883.5 841.42H899.78V858.01H883.5ZM931.44 841.42H979.68V858.01H931.44ZM995.36 841.42H1015.4V858.01H995.36ZM867.52 857.71H883.8V874.3H867.52ZM931.44 857.71H995.66V874.3H931.44ZM867.52 874H883.8V890.59H867.52ZM899.48 874H915.76V890.59H899.48ZM931.44 874H947.72V890.59H931.44ZM963.4 874H995.66V890.59H963.4Z"/>
<path fill="#f2b71d" d="M835.56 544.4H867.82V564.79H835.56ZM883.5 544.4H899.78V564.79H883.5ZM931.44 544.4H963.7V564.79H931.44ZM851.54 564.49H867.82V581.08H851.54ZM915.46 564.49H931.74V581.08H915.46ZM835.56 580.78H867.82V597.37H835.56ZM883.5 580.78H915.76V597.37H883.5ZM787.62 613.36H803.9V629.95H787.62ZM899.48 613.36H931.74V629.95H899.48ZM771.64 629.65H787.92V646.24H771.64ZM867.52 629.65H947.72V646.24H867.52ZM867.52 645.94H899.78V662.53H867.52ZM787.62 662.23H803.9V678.82H787.62ZM867.52 662.23H883.8V678.82H867.52ZM755.66 776.26H771.94V792.85H755.66ZM931.44 808.84H947.72V825.43H931.44ZM947.42 825.13H963.7V841.72H947.42ZM979.38 841.42H995.66V858.01H979.38ZM899.48 857.71H931.74V874.3H899.48ZM915.46 874H931.74V890.59H915.46Z"/>
<path fill="#ec9e20" d="M867.52 544.4H883.8V564.79H867.52ZM931.44 564.49H947.72V581.08H931.44ZM883.5 613.36H899.78V629.95H883.5ZM931.44 613.36H947.72V629.95H931.44Z"/>
<path fill="#fcf907" d="M915.46 544.4H931.74V564.79H915.46ZM963.4 544.4H979.68V564.79H963.4ZM819.58 597.07H835.86V613.66H819.58ZM803.6 613.36H819.88V629.95H803.6ZM835.56 613.36H867.82V629.95H835.56ZM819.58 645.94H835.86V662.53H819.58ZM915.46 645.94H931.74V662.53H915.46ZM819.58 662.23H851.84V678.82H819.58ZM787.62 678.52H803.9V695.11H787.62ZM867.52 678.52H883.8V695.11H867.52ZM883.5 694.81H899.78V711.4H883.5ZM947.42 743.68H963.7V760.27H947.42ZM979.38 759.97H995.66V776.56H979.38ZM803.6 792.55H819.88V809.14H803.6ZM835.56 808.84H851.84V825.43H835.56ZM835.56 825.13H851.84V841.72H835.56ZM915.46 841.42H931.74V858.01H915.46ZM867.52 890.29H883.8V906.88H867.52ZM931.44 890.29H947.72V906.88H931.44ZM931.44 906.58H947.72V925.9H931.44Z"/>
<path fill="#9cef0a" d="M979.38 544.4H995.66V564.79H979.38ZM771.64 580.78H787.92V597.37H771.64ZM931.44 580.78H947.72V597.37H931.44ZM947.42 613.36H963.7V629.95H947.42ZM851.54 629.65H867.82V646.24H851.54ZM947.42 629.65H963.7V646.24H947.42ZM787.62 645.94H803.9V662.53H787.62ZM771.64 662.23H787.92V678.82H771.64ZM771.64 678.52H787.92V695.11H771.64ZM819.58 694.81H851.84V711.4H819.58ZM819.58 727.39H835.86V743.98H819.58ZM979.38 727.39H995.66V743.98H979.38ZM915.46 776.26H931.74V792.85H915.46ZM963.4 776.26H995.66V792.85H963.4ZM819.58 825.13H835.86V841.72H819.58ZM995.36 857.71H1015.4V874.3H995.36ZM899.48 890.29H915.76V906.88H899.48ZM899.48 906.58H915.76V925.9H899.48ZM979.38 906.58H995.66V925.9H979.38Z"/>
<path fill="#12c83c" d="M995.36 544.4H1015.4V564.79H995.36ZM771.64 564.49H787.92V581.08H771.64ZM803.6 564.49H819.88V581.08H803.6ZM995.36 564.49H1015.4V581.08H995.36ZM995.36 580.78H1015.4V597.37H995.36ZM755.66 613.36H771.94V629.95H755.66ZM963.4 613.36H995.66V629.95H963.4ZM995.36 645.94H1015.4V662.53H995.36ZM963.4 662.23H979.68V678.82H963.4ZM835.56 678.52H851.84V695.11H835.56ZM931.44 678.52H963.7V695.11H931.44ZM947.42 694.81H963.7V711.4H947.42ZM755.66 711.1H771.94V727.69H755.66ZM787.62 711.1H803.9V727.69H787.62ZM835.56 711.1H851.84V727.69H835.56ZM947.42 711.1H963.7V727.69H947.42ZM787.62 743.68H803.9V760.27H787.62ZM835.56 743.68H851.84V760.27H835.56ZM771.64 759.97H787.92V776.56H771.64ZM851.54 759.97H867.82V776.56H851.54ZM787.62 776.26H819.88V792.85H787.62ZM851.54 776.26H867.82V792.85H851.54ZM771.64 792.55H787.92V809.14H771.64ZM691.74 808.84H724V825.43H691.74ZM851.54 825.13H867.82V841.72H851.54ZM803.6 857.71H819.88V874.3H803.6ZM819.58 874H835.86V890.59H819.58ZM835.56 890.29H851.84V906.88H835.56ZM755.66 906.58H787.92V925.9H755.66ZM915.46 906.58H931.74V925.9H915.46Z"/>
<path fill="#155a8a" d="M675.76 564.49H692.04V581.08H675.76ZM707.72 564.49H724V581.08H707.72ZM675.76 580.78H724V597.37H675.76ZM739.68 711.1H755.96V727.69H739.68ZM640 808.84H676.06V825.43H640ZM640 825.13H660.08V841.72H640ZM675.76 825.13H692.04V841.72H675.76ZM675.76 841.42H692.04V858.01H675.76Z"/>
<path fill="#0d3380" d="M691.74 564.49H708.02V581.08H691.74Z"/>
<path fill="#e4fb08" d="M787.62 564.49H803.9V581.08H787.62ZM803.6 597.07H819.88V613.66H803.6ZM867.52 597.07H883.8V613.66H867.52ZM835.56 645.94H851.84V662.53H835.56ZM867.52 727.39H883.8V743.98H867.52ZM915.46 727.39H931.74V743.98H915.46ZM867.52 743.68H883.8V760.27H867.52ZM915.46 743.68H947.72V760.27H915.46ZM979.38 743.68H995.66V760.27H979.38ZM867.52 776.26H883.8V792.85H867.52ZM899.48 792.55H915.76V809.14H899.48ZM899.48 808.84H915.76V825.43H899.48ZM803.6 825.13H819.88V841.72H803.6ZM867.52 825.13H883.8V841.72H867.52ZM819.58 841.42H835.86V858.01H819.58ZM867.52 841.42H883.8V858.01H867.52ZM883.5 857.71H899.78V874.3H883.5ZM851.54 874H867.82V890.59H851.54ZM851.54 890.29H867.82V906.88H851.54ZM979.38 890.29H995.66V906.88H979.38ZM867.52 906.58H883.8V925.9H867.52Z"/>
<path fill="#38dc10" d="M819.58 564.49H835.86V581.08H819.58ZM851.54 645.94H867.82V662.53H851.54ZM755.66 678.52H771.94V695.11H755.66ZM803.6 678.52H819.88V695.11H803.6ZM899.48 678.52H915.76V695.11H899.48ZM771.64 694.81H787.92V711.4H771.64ZM867.52 694.81H883.8V711.4H867.52ZM995.36 694.81H1015.4V711.4H995.36ZM819.58 711.1H835.86V727.69H819.58ZM867.52 711.1H883.8V727.69H867.52ZM899.48 711.1H915.76V727.69H899.48ZM979.38 711.1H995.66V727.69H979.38ZM963.4 743.68H979.68V760.27H963.4ZM819.58 792.55H835.86V809.14H819.58ZM787.62 825.13H803.9V841.72H787.62ZM835.56 841.42H851.84V858.01H835.56ZM835.56 857.71H851.84V874.3H835.56ZM835.56 874H851.84V890.59H835.56ZM851.54 906.58H867.82V925.9H851.54ZM963.4 906.58H979.68V925.9H963.4Z"/>
<path fill="#c2f605" d="M787.62 580.78H803.9V597.37H787.62ZM819.58 580.78H835.86V597.37H819.58ZM867.52 580.78H883.8V597.37H867.52ZM931.44 597.07H947.72V613.66H931.44ZM803.6 629.65H819.88V646.24H803.6ZM803.6 727.39H819.88V743.98H803.6ZM803.6 743.68H835.86V760.27H803.6ZM899.48 743.68H915.76V760.27H899.48ZM931.44 759.97H947.72V776.56H931.44ZM931.44 776.26H963.7V792.85H931.44ZM867.52 808.84H883.8V825.43H867.52ZM851.54 857.71H867.82V874.3H851.54ZM883.5 874H899.78V890.59H883.5ZM915.46 890.29H931.74V906.88H915.46ZM995.36 890.29H1015.4V906.88H995.36Z"/>
<path fill="#1cb866" d="M803.6 580.78H819.88V597.37H803.6ZM755.66 597.07H771.94V613.66H755.66ZM931.44 662.23H963.7V678.82H931.44ZM979.38 662.23H995.66V678.82H979.38ZM979.38 678.52H1015.4V695.11H979.38ZM755.66 808.84H771.94V825.43H755.66ZM707.72 825.13H724V841.72H707.72ZM947.42 890.29H963.7V906.88H947.42Z"/>
<path fill="#d46f33" d="M787.62 597.07H803.9V613.66H787.62Z"/>
<path fill="#68e50c" d="M947.42 597.07H963.7V613.66H947.42ZM819.58 629.65H835.86V646.24H819.58ZM915.46 678.52H931.74V695.11H915.46ZM803.6 694.81H819.88V711.4H803.6ZM771.64 711.1H787.92V727.69H771.64ZM915.46 711.1H931.74V727.69H915.46ZM899.48 727.39H915.76V743.98H899.48ZM963.4 727.39H979.68V743.98H963.4ZM755.66 759.97H771.94V776.56H755.66ZM947.42 759.97H963.7V776.56H947.42ZM819.58 776.26H851.84V792.85H819.58ZM819.58 808.84H835.86V825.43H819.58ZM963.4 808.84H979.68V825.43H963.4ZM819.58 857.71H835.86V874.3H819.58ZM995.36 874H1015.4V890.59H995.36Z"/>
<path fill="#1c8a8f" d="M659.78 613.36H676.06V629.95H659.78ZM707.72 613.36H724V629.95H707.72ZM659.78 645.94H676.06V662.53H659.78ZM691.74 645.94H739.98V662.53H691.74ZM691.74 662.23H708.02V678.82H691.74ZM723.7 662.23H739.98V678.82H723.7ZM755.66 662.23H771.94V678.82H755.66ZM675.76 678.52H692.04V695.11H675.76ZM675.76 694.81H692.04V711.4H675.76ZM723.7 694.81H739.98V711.4H723.7ZM659.78 711.1H676.06V727.69H659.78ZM691.74 711.1H739.98V727.69H691.74ZM640 727.39H660.08V743.98H640ZM755.66 727.39H771.94V743.98H755.66ZM640 743.68H660.08V760.27H640ZM723.7 743.68H739.98V760.27H723.7ZM640 759.97H660.08V776.56H640ZM691.74 792.55H724V809.14H691.74ZM675.76 857.71H692.04V874.3H675.76ZM659.78 874H692.04V890.59H659.78ZM723.7 874H787.92V890.59H723.7ZM640 890.29H660.08V906.88H640ZM707.72 890.29H739.98V906.88H707.72ZM675.76 906.58H692.04V925.9H675.76ZM707.72 906.58H739.98V925.9H707.72ZM787.62 906.58H803.9V925.9H787.62Z"/>
<path fill="#0c2a78" d="M675.76 776.26H692.04V792.85H675.76Z"/>
</g></g>
<path fill="#000" d="M643 547.4H1012.4V922.9H643ZM645.1 549H1011.5V920.9H645.1Z" fill-rule="evenodd"/>
<line x1="728.7" y1="546.6" x2="728.7" y2="548.9" stroke="#000" stroke-width="1"/>
<text class="lab" x="701.8" y="536.2" textLength="55.1" lengthAdjust="spacingAndGlyphs">101°0&#39;E</text>
<line x1="839.8" y1="546.6" x2="839.8" y2="548.9" stroke="#000" stroke-width="1"/>
<text class="lab" x="811.7" y="536.2" textLength="54.8" lengthAdjust="spacingAndGlyphs">101°5&#39;E</text>
<line x1="948" y1="546.6" x2="948" y2="548.9" stroke="#000" stroke-width="1"/>
<text class="lab" x="917.7" y="536.2" textLength="63.5" lengthAdjust="spacingAndGlyphs">101°10&#39;E</text>
<text class="pl" x="645.5" y="577.6" textLength="25.5" lengthAdjust="spacingAndGlyphs">(e)</text>
<rect x="992.4" y="573" width="5.3" height="31" fill="#000"/>
<rect x="979.7" y="586" width="30.7" height="5.3" fill="#000"/>
<rect x="979.7" y="607.2" width="30.7" height="5.5" fill="#000"/>
<path d="M650.5 910.4V917.4H778.3V910.4" fill="none" stroke="#000" stroke-width="1.1"/>
<line x1="682.45" y1="912.6" x2="682.45" y2="917.4" stroke="#000" stroke-width="1.1"/>
<line x1="714.4" y1="912.6" x2="714.4" y2="917.4" stroke="#000" stroke-width="1.1"/>
<line x1="746.35" y1="912.6" x2="746.35" y2="917.4" stroke="#000" stroke-width="1.1"/>
<text class="sc" x="650.5" y="905" text-anchor="middle">0</text>
<text class="sc" x="714.4" y="905" text-anchor="middle">4</text>
<text class="sc" x="778.3" y="905" text-anchor="middle">8</text>
<text class="km" x="784.8" y="905.2">km</text>
<rect x="657.9" y="934.1" width="336" height="13.9" fill="url(#cbB)"/>
<text class="tk" transform="translate(668.4 958) rotate(-50)" text-anchor="end">600</text>
<line x1="713.5" y1="948" x2="713.5" y2="949.8" stroke="#444" stroke-width="0.9"/>
<text class="tk" transform="translate(724.4 958) rotate(-50)" text-anchor="end">500</text>
<line x1="769.5" y1="948" x2="769.5" y2="949.8" stroke="#444" stroke-width="0.9"/>
<text class="tk" transform="translate(780.4 958) rotate(-50)" text-anchor="end">400</text>
<line x1="825.5" y1="948" x2="825.5" y2="949.8" stroke="#444" stroke-width="0.9"/>
<text class="tk" transform="translate(836.4 958) rotate(-50)" text-anchor="end">300</text>
<line x1="881.5" y1="948" x2="881.5" y2="949.8" stroke="#444" stroke-width="0.9"/>
<text class="tk" transform="translate(892.4 958) rotate(-50)" text-anchor="end">200</text>
<line x1="937.5" y1="948" x2="937.5" y2="949.8" stroke="#444" stroke-width="0.9"/>
<text class="tk" transform="translate(948.4 958) rotate(-50)" text-anchor="end">100</text>
<line x1="993.5" y1="948" x2="993.5" y2="949.8" stroke="#444" stroke-width="0.9"/>
<text class="tk" transform="translate(996.3 963.4) rotate(-50)" text-anchor="end">0</text>
<text class="tt" x="677.8" y="993.6" textLength="288.4" lengthAdjust="spacingAndGlyphs">LE based onEFAF method (Wm<tspan dy="-6" font-size="11">-2</tspan><tspan dy="6">)</tspan></text>
</g>
</svg>
</body></html>
